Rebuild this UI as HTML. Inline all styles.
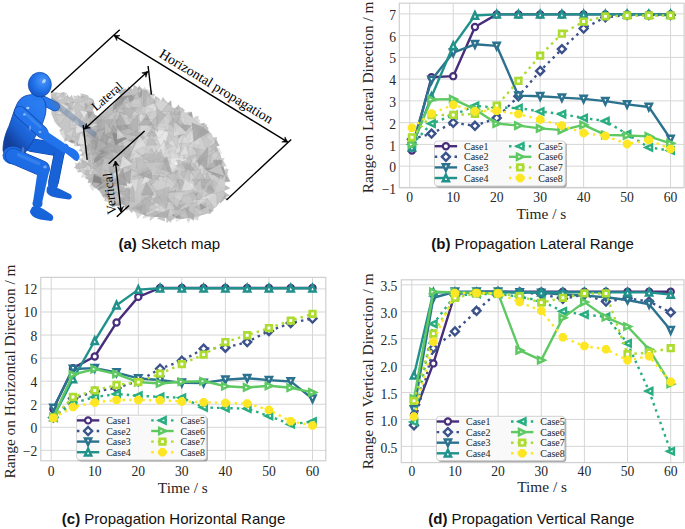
<!DOCTYPE html>
<html><head><meta charset="utf-8"><title>Figure</title>
<style>
html,body{margin:0;padding:0;background:#fff;width:685px;height:529px;overflow:hidden;}
svg{display:block;font-family:"Liberation Serif",serif;}
</style></head><body>
<svg width="685" height="529" viewBox="0 0 685 529">
<defs>
<clipPath id="clipB"><rect x="399.3" y="3.2" width="284.8" height="184.3"/></clipPath>
<clipPath id="clipC"><rect x="40.8" y="277.4" width="285" height="183.4"/></clipPath>
<clipPath id="clipD"><rect x="401.3" y="279.8" width="282.7" height="182.8"/></clipPath>
</defs>
<defs><radialGradient id="cg" gradientUnits="userSpaceOnUse" cx="175" cy="150" r="105"><stop offset="0" stop-color="#dcdcdc"/><stop offset="0.55" stop-color="#c9c9c9"/><stop offset="0.8" stop-color="#bababa"/><stop offset="1" stop-color="#c6c6c6"/></radialGradient><clipPath id="cclip"><path d="M50.7,92.6 L55,92 L61.6,93.7 L66,96.5 L70.7,99.4 L76,98.5 L79.8,99.4 L84,97.5 L87.7,97 L91,98 L93.8,100 L94.8,105 L93,110 L95,115 L99,116.5 L104,112.5 L110,107.5 L115,103 L118.7,97 L122,93 L126.3,90.7 L133,89.2 L140,89.5 L147,90.8 L150.5,94 L155.4,99.4 L163,101 L170.9,106.5 L178,110 L186.8,114 L194,118.5 L199,122 L203.5,127.4 L211.9,134 L215,143.2 L220,153.8 L223,164.4 L225.5,175 L225,185.6 L224,196.2 L216.5,206.5 L207,213.5 L194.7,217.2 L181.5,218.5 L170,218 L162.9,217.5 L147,216 L133.8,211.5 L125.9,205 L118,204 L112,202 L105.5,196.5 L95,187 L91.6,183 L88.5,177.6 L81,172 L79,166.3 L82.8,156.8 L81,148 L76.4,141.3 L70,139.5 L65,137 L63.9,131 L58,126 L54.8,122 L51.4,114Z"/></clipPath></defs>
<polygon points="67.01,93.2 63.14,98.78 60.33,92.53" fill="#c5c5c5" fill-opacity="0.85" stroke="#7a7a7a" stroke-opacity="0.3" stroke-width="0.35"/>
<polygon points="64.31,91.82 63.71,97.15 60.21,94.71" fill="#bbbbbb" fill-opacity="0.85" stroke="#7a7a7a" stroke-opacity="0.3" stroke-width="0.35"/>
<polygon points="64.24,97.13 67.95,94.55 67.67,99.3" fill="#cecece" fill-opacity="0.85" stroke="#7a7a7a" stroke-opacity="0.3" stroke-width="0.35"/>
<polygon points="66.94,95.56 72.5,99.71 66.4,101.31" fill="#b0b0b0" fill-opacity="0.85" stroke="#7a7a7a" stroke-opacity="0.3" stroke-width="0.35"/>
<polygon points="72.67,101.87 70,96.46 75.24,99.38" fill="#c3c3c3" fill-opacity="0.85" stroke="#7a7a7a" stroke-opacity="0.3" stroke-width="0.35"/>
<polygon points="67.13,100.49 71.78,94.89 74.06,102.19" fill="#c2c2c2" fill-opacity="0.85" stroke="#7a7a7a" stroke-opacity="0.3" stroke-width="0.35"/>
<polygon points="79.66,96.89 76.02,101.91 73.36,95.68" fill="#cdcdcd" fill-opacity="0.85" stroke="#7a7a7a" stroke-opacity="0.3" stroke-width="0.35"/>
<polygon points="76.52,95.93 80.66,99.91 75.78,101.08" fill="#d7d7d7" fill-opacity="0.85" stroke="#7a7a7a" stroke-opacity="0.3" stroke-width="0.35"/>
<polygon points="81.16,102.04 80.67,93.45 88.38,95.38" fill="#cfcfcf" fill-opacity="0.85" stroke="#7a7a7a" stroke-opacity="0.3" stroke-width="0.35"/>
<polygon points="79.44,103.29 77.47,94.99 85.2,99.14" fill="#c2c2c2" fill-opacity="0.85" stroke="#7a7a7a" stroke-opacity="0.3" stroke-width="0.35"/>
<polygon points="88.88,96.6 83.45,100.95 82.21,94.05" fill="#c8c8c8" fill-opacity="0.85" stroke="#7a7a7a" stroke-opacity="0.3" stroke-width="0.35"/>
<polygon points="88.25,97.34 82.79,101.64 81.14,95.89" fill="#b6b6b6" fill-opacity="0.85" stroke="#7a7a7a" stroke-opacity="0.3" stroke-width="0.35"/>
<polygon points="121.68,98.13 118.06,90.19 126.08,88.82" fill="#c1c1c1" fill-opacity="0.85" stroke="#7a7a7a" stroke-opacity="0.3" stroke-width="0.35"/>
<polygon points="125.93,88.55 123.29,96 118.74,92.76" fill="#bcbcbc" fill-opacity="0.85" stroke="#7a7a7a" stroke-opacity="0.3" stroke-width="0.35"/>
<polygon points="130.98,92.93 126.22,90.19 131.75,88.24" fill="#b3b3b3" fill-opacity="0.85" stroke="#7a7a7a" stroke-opacity="0.3" stroke-width="0.35"/>
<polygon points="133.52,91.57 127.58,91.3 128.09,86.54" fill="#ababab" fill-opacity="0.85" stroke="#7a7a7a" stroke-opacity="0.3" stroke-width="0.35"/>
<polygon points="132.81,94.15 133.74,84.95 141.08,89.82" fill="#b9b9b9" fill-opacity="0.85" stroke="#7a7a7a" stroke-opacity="0.3" stroke-width="0.35"/>
<polygon points="139.07,85.62 143.28,90.8 136.3,92.45" fill="#a4a4a4" fill-opacity="0.85" stroke="#7a7a7a" stroke-opacity="0.3" stroke-width="0.35"/>
<polygon points="141.12,89.59 147.99,89.79 143.21,94.21" fill="#acacac" fill-opacity="0.85" stroke="#7a7a7a" stroke-opacity="0.3" stroke-width="0.35"/>
<polygon points="144.97,87.27 147.2,94.01 139.97,91.01" fill="#d5d5d5" fill-opacity="0.85" stroke="#7a7a7a" stroke-opacity="0.3" stroke-width="0.35"/>
<polygon points="147.35,90.91 152.64,91.05 148.04,97.27" fill="#d5d5d5" fill-opacity="0.85" stroke="#7a7a7a" stroke-opacity="0.3" stroke-width="0.35"/>
<polygon points="152.11,90.77 150.9,96.92 145.95,90.28" fill="#e5e5e5" fill-opacity="0.85" stroke="#7a7a7a" stroke-opacity="0.3" stroke-width="0.35"/>
<polygon points="151.13,97.85 158.23,97.75 153.73,102.66" fill="#d0d0d0" fill-opacity="0.85" stroke="#7a7a7a" stroke-opacity="0.3" stroke-width="0.35"/>
<polygon points="151.62,99.02 148.4,92.33 154.92,94.52" fill="#bebebe" fill-opacity="0.85" stroke="#7a7a7a" stroke-opacity="0.3" stroke-width="0.35"/>
<polygon points="166.98,103.84 160.44,102.62 162.87,96.93" fill="#c3c3c3" fill-opacity="0.85" stroke="#7a7a7a" stroke-opacity="0.3" stroke-width="0.35"/>
<polygon points="160.21,99.39 154.86,103.55 155.35,95.83" fill="#bfbfbf" fill-opacity="0.85" stroke="#7a7a7a" stroke-opacity="0.3" stroke-width="0.35"/>
<polygon points="171.06,100.41 171.69,107.99 163.74,106.91" fill="#a6a6a6" fill-opacity="0.85" stroke="#7a7a7a" stroke-opacity="0.3" stroke-width="0.35"/>
<polygon points="161.88,104.99 163.14,98.41 168.1,103.11" fill="#c7c7c7" fill-opacity="0.85" stroke="#7a7a7a" stroke-opacity="0.3" stroke-width="0.35"/>
<polygon points="180.46,107.55 177.13,112.83 175.46,108.06" fill="#a1a1a1" fill-opacity="0.85" stroke="#7a7a7a" stroke-opacity="0.3" stroke-width="0.35"/>
<polygon points="171.23,111.69 179,104.72 179.76,113.78" fill="#b3b3b3" fill-opacity="0.85" stroke="#7a7a7a" stroke-opacity="0.3" stroke-width="0.35"/>
<polygon points="184.95,110.36 176.77,115.93 178.23,105.94" fill="#bebebe" fill-opacity="0.85" stroke="#7a7a7a" stroke-opacity="0.3" stroke-width="0.35"/>
<polygon points="182.34,107.54 184.65,113.01 177.57,114.49" fill="#c9c9c9" fill-opacity="0.85" stroke="#7a7a7a" stroke-opacity="0.3" stroke-width="0.35"/>
<polygon points="193.31,119.39 184.24,114.98 191.64,111.75" fill="#979797" fill-opacity="0.85" stroke="#7a7a7a" stroke-opacity="0.3" stroke-width="0.35"/>
<polygon points="183.87,113.17 189.97,111.69 187.71,117.77" fill="#c5c5c5" fill-opacity="0.85" stroke="#7a7a7a" stroke-opacity="0.3" stroke-width="0.35"/>
<polygon points="198.7,115.9 196.22,123.53 191.62,119.07" fill="#c9c9c9" fill-opacity="0.85" stroke="#7a7a7a" stroke-opacity="0.3" stroke-width="0.35"/>
<polygon points="200.36,121.1 193.9,122.93 195.18,116.03" fill="#d8d8d8" fill-opacity="0.85" stroke="#7a7a7a" stroke-opacity="0.3" stroke-width="0.35"/>
<polygon points="198.99,123.92 204.94,123.09 203.05,128.38" fill="#a4a4a4" fill-opacity="0.85" stroke="#7a7a7a" stroke-opacity="0.3" stroke-width="0.35"/>
<polygon points="202.32,130.51 201.87,124.33 207.21,124.91" fill="#d0d0d0" fill-opacity="0.85" stroke="#7a7a7a" stroke-opacity="0.3" stroke-width="0.35"/>
<polygon points="203.3,125.57 208.61,128.01 202.48,132.03" fill="#b5b5b5" fill-opacity="0.85" stroke="#7a7a7a" stroke-opacity="0.3" stroke-width="0.35"/>
<polygon points="201.36,130.65 205.8,124.43 209.12,131.67" fill="#c2c2c2" fill-opacity="0.85" stroke="#7a7a7a" stroke-opacity="0.3" stroke-width="0.35"/>
<polygon points="216.75,137.26 216.41,144.09 209.83,138.06" fill="#bcbcbc" fill-opacity="0.85" stroke="#7a7a7a" stroke-opacity="0.3" stroke-width="0.35"/>
<polygon points="218.15,141.43 213.7,145.21 212.4,140.17" fill="#d1d1d1" fill-opacity="0.85" stroke="#7a7a7a" stroke-opacity="0.3" stroke-width="0.35"/>
<polygon points="218.96,148.03 221.61,153.56 215.63,152.54" fill="#ebebeb" fill-opacity="0.85" stroke="#7a7a7a" stroke-opacity="0.3" stroke-width="0.35"/>
<polygon points="215.8,140.24 219.62,145.4 212.57,147.61" fill="#a9a9a9" fill-opacity="0.85" stroke="#7a7a7a" stroke-opacity="0.3" stroke-width="0.35"/>
<polygon points="217.42,158.88 224.48,158.2 220.39,163.8" fill="#c8c8c8" fill-opacity="0.85" stroke="#7a7a7a" stroke-opacity="0.3" stroke-width="0.35"/>
<polygon points="222.66,159.74 226.22,166.09 218.95,166.93" fill="#c6c6c6" fill-opacity="0.85" stroke="#7a7a7a" stroke-opacity="0.3" stroke-width="0.35"/>
<polygon points="227.06,176.79 219.64,172.61 226.49,167.69" fill="#e8e8e8" fill-opacity="0.85" stroke="#7a7a7a" stroke-opacity="0.3" stroke-width="0.35"/>
<polygon points="228.42,169.02 226.28,177.37 220.96,170.98" fill="#c6c6c6" fill-opacity="0.85" stroke="#7a7a7a" stroke-opacity="0.3" stroke-width="0.35"/>
<polygon points="226.35,172.58 230.21,181.54 220.26,179.81" fill="#c6c6c6" fill-opacity="0.85" stroke="#7a7a7a" stroke-opacity="0.3" stroke-width="0.35"/>
<polygon points="229.86,181.25 222.68,182.47 225.44,174.5" fill="#a4a4a4" fill-opacity="0.85" stroke="#7a7a7a" stroke-opacity="0.3" stroke-width="0.35"/>
<polygon points="221.49,183.12 230.12,188.18 222.53,191.31" fill="#b1b1b1" fill-opacity="0.85" stroke="#7a7a7a" stroke-opacity="0.3" stroke-width="0.35"/>
<polygon points="229.54,195.46 221.76,198.21 220.56,189.25" fill="#adadad" fill-opacity="0.85" stroke="#7a7a7a" stroke-opacity="0.3" stroke-width="0.35"/>
<polygon points="220.13,203.31 218.39,197.52 224.08,199.67" fill="#adadad" fill-opacity="0.85" stroke="#7a7a7a" stroke-opacity="0.3" stroke-width="0.35"/>
<polygon points="222.08,192.85 227.71,199.37 220.08,199.02" fill="#aaaaaa" fill-opacity="0.85" stroke="#7a7a7a" stroke-opacity="0.3" stroke-width="0.35"/>
<polygon points="213.58,209.78 209.89,213.92 207.98,208.46" fill="#b5b5b5" fill-opacity="0.85" stroke="#7a7a7a" stroke-opacity="0.3" stroke-width="0.35"/>
<polygon points="213.41,210.49 208.46,214.08 207.82,207.8" fill="#bdbdbd" fill-opacity="0.85" stroke="#7a7a7a" stroke-opacity="0.3" stroke-width="0.35"/>
<polygon points="200.79,215.02 195.6,219.15 196,213.22" fill="#c3c3c3" fill-opacity="0.85" stroke="#7a7a7a" stroke-opacity="0.3" stroke-width="0.35"/>
<polygon points="190.75,216.71 197.38,212.16 198.28,220.46" fill="#d8d8d8" fill-opacity="0.85" stroke="#7a7a7a" stroke-opacity="0.3" stroke-width="0.35"/>
<polygon points="188.91,217.06 194.33,215 193.62,220.47" fill="#a7a7a7" fill-opacity="0.85" stroke="#7a7a7a" stroke-opacity="0.3" stroke-width="0.35"/>
<polygon points="193.15,215.22 188.15,222.6 184.62,213.77" fill="#d2d2d2" fill-opacity="0.85" stroke="#7a7a7a" stroke-opacity="0.3" stroke-width="0.35"/>
<polygon points="176.09,214.85 180.96,219.47 175.97,221.65" fill="#eaeaea" fill-opacity="0.85" stroke="#7a7a7a" stroke-opacity="0.3" stroke-width="0.35"/>
<polygon points="174.43,219.04 168.78,220.64 171.06,215.32" fill="#bdbdbd" fill-opacity="0.85" stroke="#7a7a7a" stroke-opacity="0.3" stroke-width="0.35"/>
<polygon points="165.11,216.95 172.83,214.11 170.91,222.65" fill="#c6c6c6" fill-opacity="0.85" stroke="#7a7a7a" stroke-opacity="0.3" stroke-width="0.35"/>
<polygon points="166.4,215.32 173.9,215.69 166.74,222.91" fill="#bcbcbc" fill-opacity="0.85" stroke="#7a7a7a" stroke-opacity="0.3" stroke-width="0.35"/>
<polygon points="149.82,220.81 151.22,212.1 157.91,214.52" fill="#c8c8c8" fill-opacity="0.85" stroke="#7a7a7a" stroke-opacity="0.3" stroke-width="0.35"/>
<polygon points="157.18,218.49 164.24,212.98 164.89,221.27" fill="#bdbdbd" fill-opacity="0.85" stroke="#7a7a7a" stroke-opacity="0.3" stroke-width="0.35"/>
<polygon points="145.91,212.08 149.67,216.57 142.62,218.3" fill="#d7d7d7" fill-opacity="0.85" stroke="#7a7a7a" stroke-opacity="0.3" stroke-width="0.35"/>
<polygon points="144.78,211.24 137.48,218.73 134.9,210.5" fill="#d6d6d6" fill-opacity="0.85" stroke="#7a7a7a" stroke-opacity="0.3" stroke-width="0.35"/>
<polygon points="127.05,210.62 121.6,203.25 130.66,201.75" fill="#a5a5a5" fill-opacity="0.85" stroke="#7a7a7a" stroke-opacity="0.3" stroke-width="0.35"/>
<polygon points="124.49,205.11 134.31,204.24 132.02,213.04" fill="#b6b6b6" fill-opacity="0.85" stroke="#7a7a7a" stroke-opacity="0.3" stroke-width="0.35"/>
<polygon points="126,204.6 121.76,208.61 119.46,202.33" fill="#dcdcdc" fill-opacity="0.85" stroke="#7a7a7a" stroke-opacity="0.3" stroke-width="0.35"/>
<polygon points="116.07,201.33 122,202.82 118.49,206.87" fill="#d1d1d1" fill-opacity="0.85" stroke="#7a7a7a" stroke-opacity="0.3" stroke-width="0.35"/>
<polygon points="111.43,204.36 114.86,198.1 119.37,205.56" fill="#b8b8b8" fill-opacity="0.85" stroke="#7a7a7a" stroke-opacity="0.3" stroke-width="0.35"/>
<polygon points="114.33,198.31 120.42,204.73 111.6,207.26" fill="#9c9c9c" fill-opacity="0.85" stroke="#7a7a7a" stroke-opacity="0.3" stroke-width="0.35"/>
<polygon points="109.85,194.51 112.62,203.25 103.91,200.51" fill="#c9c9c9" fill-opacity="0.85" stroke="#7a7a7a" stroke-opacity="0.3" stroke-width="0.35"/>
<polygon points="112.43,198.41 109.15,203.02 107.47,197.56" fill="#cdcdcd" fill-opacity="0.85" stroke="#7a7a7a" stroke-opacity="0.3" stroke-width="0.35"/>
<polygon points="102.13,195.26 107.64,193.02 105.76,199.97" fill="#bebebe" fill-opacity="0.85" stroke="#7a7a7a" stroke-opacity="0.3" stroke-width="0.35"/>
<polygon points="103.38,197.56 100.23,191.99 106.6,193.2" fill="#ababab" fill-opacity="0.85" stroke="#7a7a7a" stroke-opacity="0.3" stroke-width="0.35"/>
<polygon points="97.83,183.69 92.5,190.67 89.59,185.27" fill="#e1e1e1" fill-opacity="0.85" stroke="#7a7a7a" stroke-opacity="0.3" stroke-width="0.35"/>
<polygon points="89.88,183.66 96.29,181.96 96.47,188.9" fill="#b8b8b8" fill-opacity="0.85" stroke="#7a7a7a" stroke-opacity="0.3" stroke-width="0.35"/>
<polygon points="89.79,177.06 94.94,181.66 87.83,182.99" fill="#a9a9a9" fill-opacity="0.85" stroke="#7a7a7a" stroke-opacity="0.3" stroke-width="0.35"/>
<polygon points="85.36,176.31 89.58,175.92 88.62,180.8" fill="#c0c0c0" fill-opacity="0.85" stroke="#7a7a7a" stroke-opacity="0.3" stroke-width="0.35"/>
<polygon points="86.27,174.04 90.93,179.13 85.38,178.52" fill="#b8b8b8" fill-opacity="0.85" stroke="#7a7a7a" stroke-opacity="0.3" stroke-width="0.35"/>
<polygon points="88.6,176.85 81.04,177.37 84.29,170.71" fill="#e0e0e0" fill-opacity="0.85" stroke="#7a7a7a" stroke-opacity="0.3" stroke-width="0.35"/>
<polygon points="83.49,171.65 77.36,172.29 80.71,167.16" fill="#b3b3b3" fill-opacity="0.85" stroke="#7a7a7a" stroke-opacity="0.3" stroke-width="0.35"/>
<polygon points="75.23,163 83.62,165.18 76.9,170.69" fill="#cfcfcf" fill-opacity="0.85" stroke="#7a7a7a" stroke-opacity="0.3" stroke-width="0.35"/>
<polygon points="79.42,161.62 82.95,169.54 74.14,168.03" fill="#b9b9b9" fill-opacity="0.85" stroke="#7a7a7a" stroke-opacity="0.3" stroke-width="0.35"/>
<polygon points="81.94,162.79 78.88,159.16 84.02,157.37" fill="#d2d2d2" fill-opacity="0.85" stroke="#7a7a7a" stroke-opacity="0.3" stroke-width="0.35"/>
<polygon points="83.62,151.86 78.58,150.63 82.07,147.32" fill="#bcbcbc" fill-opacity="0.85" stroke="#7a7a7a" stroke-opacity="0.3" stroke-width="0.35"/>
<polygon points="84.59,156.03 79.51,155.73 83.15,152.11" fill="#bebebe" fill-opacity="0.85" stroke="#7a7a7a" stroke-opacity="0.3" stroke-width="0.35"/>
<polygon points="74.47,146.09 74.97,138.48 81.49,145.85" fill="#c9c9c9" fill-opacity="0.85" stroke="#7a7a7a" stroke-opacity="0.3" stroke-width="0.35"/>
<polygon points="77.25,145.98 76.28,141.87 80.75,144.47" fill="#a9a9a9" fill-opacity="0.85" stroke="#7a7a7a" stroke-opacity="0.3" stroke-width="0.35"/>
<polygon points="72.55,143.71 67.09,140.5 72.95,135.85" fill="#b6b6b6" fill-opacity="0.85" stroke="#7a7a7a" stroke-opacity="0.3" stroke-width="0.35"/>
<polygon points="74.34,137.68 74.8,143.5 69.03,141.19" fill="#8f8f8f" fill-opacity="0.85" stroke="#7a7a7a" stroke-opacity="0.3" stroke-width="0.35"/>
<polygon points="63.96,141.99 64.79,135.26 71.1,136.73" fill="#d5d5d5" fill-opacity="0.85" stroke="#7a7a7a" stroke-opacity="0.3" stroke-width="0.35"/>
<polygon points="65.61,141.55 64.67,135.6 70.09,137.42" fill="#b6b6b6" fill-opacity="0.85" stroke="#7a7a7a" stroke-opacity="0.3" stroke-width="0.35"/>
<polygon points="64.68,139.91 60.05,132.98 67.55,131.39" fill="#d9d9d9" fill-opacity="0.85" stroke="#7a7a7a" stroke-opacity="0.3" stroke-width="0.35"/>
<polygon points="61.98,134.89 61.05,127.97 68.1,129.2" fill="#f0f0f0" fill-opacity="0.85" stroke="#7a7a7a" stroke-opacity="0.3" stroke-width="0.35"/>
<polygon points="65.26,133 59.36,130.49 63.4,126.66" fill="#b6b6b6" fill-opacity="0.85" stroke="#7a7a7a" stroke-opacity="0.3" stroke-width="0.35"/>
<polygon points="64.89,134.3 59.55,131.68 65.62,127.22" fill="#d9d9d9" fill-opacity="0.85" stroke="#7a7a7a" stroke-opacity="0.3" stroke-width="0.35"/>
<path d="M50.7,92.6 L55,92 L61.6,93.7 L66,96.5 L70.7,99.4 L76,98.5 L79.8,99.4 L84,97.5 L87.7,97 L91,98 L93.8,100 L94.8,105 L93,110 L95,115 L99,116.5 L104,112.5 L110,107.5 L115,103 L118.7,97 L122,93 L126.3,90.7 L133,89.2 L140,89.5 L147,90.8 L150.5,94 L155.4,99.4 L163,101 L170.9,106.5 L178,110 L186.8,114 L194,118.5 L199,122 L203.5,127.4 L211.9,134 L215,143.2 L220,153.8 L223,164.4 L225.5,175 L225,185.6 L224,196.2 L216.5,206.5 L207,213.5 L194.7,217.2 L181.5,218.5 L170,218 L162.9,217.5 L147,216 L133.8,211.5 L125.9,205 L118,204 L112,202 L105.5,196.5 L95,187 L91.6,183 L88.5,177.6 L81,172 L79,166.3 L82.8,156.8 L81,148 L76.4,141.3 L70,139.5 L65,137 L63.9,131 L58,126 L54.8,122 L51.4,114Z" fill="url(#cg)"/>
<g clip-path="url(#cclip)">
<polygon points="193.4,189.6 179.91,194.23 178.03,176.75" fill="#a9a9a9" fill-opacity="0.6" stroke="#7a7a7a" stroke-opacity="0.3" stroke-width="0.35"/>
<polygon points="206.21,173.99 215.41,184.62 200.01,188.95" fill="#bbbbbb" fill-opacity="0.59" stroke="#7a7a7a" stroke-opacity="0.3" stroke-width="0.35"/>
<polygon points="139.17,124.74 145.4,110.6 150.71,125.11" fill="#9d9d9d" fill-opacity="0.53" stroke="#7a7a7a" stroke-opacity="0.3" stroke-width="0.35"/>
<polygon points="186.61,169.46 167.96,167.95 177.42,153.64" fill="#e3e3e3" fill-opacity="0.55" stroke="#7a7a7a" stroke-opacity="0.3" stroke-width="0.35"/>
<polygon points="202.99,199.08 199.48,187.84 215.46,194.24" fill="#f5f5f5" fill-opacity="0.62" stroke="#7a7a7a" stroke-opacity="0.3" stroke-width="0.35"/>
<polygon points="91.34,121 88.52,133.58 78.82,126.83" fill="#b8b8b8" fill-opacity="0.8" stroke="#7a7a7a" stroke-opacity="0.3" stroke-width="0.35"/>
<polygon points="87.13,168.06 86.03,174.57 82.22,167.82" fill="#cfcfcf" fill-opacity="0.69" stroke="#7a7a7a" stroke-opacity="0.3" stroke-width="0.35"/>
<polygon points="217.18,153.51 209.42,146.49 218.68,141" fill="#b5b5b5" fill-opacity="0.73" stroke="#7a7a7a" stroke-opacity="0.3" stroke-width="0.35"/>
<polygon points="106.34,171.93 128.11,174.11 118.02,186.73" fill="#f1f1f1" fill-opacity="0.6" stroke="#7a7a7a" stroke-opacity="0.3" stroke-width="0.35"/>
<polygon points="138.18,155.71 147.72,157.28 143.85,164.94" fill="#ebebeb" fill-opacity="0.54" stroke="#7a7a7a" stroke-opacity="0.3" stroke-width="0.35"/>
<polygon points="104.54,159.26 100.8,168.06 91,157.59" fill="#a5a5a5" fill-opacity="0.64" stroke="#7a7a7a" stroke-opacity="0.3" stroke-width="0.35"/>
<polygon points="165.64,126.05 168.64,145.32 151.5,139.35" fill="#cdcdcd" fill-opacity="0.51" stroke="#7a7a7a" stroke-opacity="0.3" stroke-width="0.35"/>
<polygon points="161.19,110.51 164.82,122.98 149.89,125.12" fill="#bfbfbf" fill-opacity="0.66" stroke="#7a7a7a" stroke-opacity="0.3" stroke-width="0.35"/>
<polygon points="181.29,168.87 164.95,162.39 180.63,155.06" fill="#d0d0d0" fill-opacity="0.73" stroke="#7a7a7a" stroke-opacity="0.3" stroke-width="0.35"/>
<polygon points="154.09,168.06 140.65,159.54 159.75,154.46" fill="#c8c8c8" fill-opacity="0.48" stroke="#7a7a7a" stroke-opacity="0.3" stroke-width="0.35"/>
<polygon points="180.79,199.48 163.5,207.66 165.48,187.91" fill="#e0e0e0" fill-opacity="0.72" stroke="#7a7a7a" stroke-opacity="0.3" stroke-width="0.35"/>
<polygon points="128.7,190.14 125.18,183.62 133.96,182.68" fill="#f5f5f5" fill-opacity="0.72" stroke="#7a7a7a" stroke-opacity="0.3" stroke-width="0.35"/>
<polygon points="171.74,118.43 185.59,116.97 182.4,127.87" fill="#d7d7d7" fill-opacity="0.66" stroke="#7a7a7a" stroke-opacity="0.3" stroke-width="0.35"/>
<polygon points="104.43,170.16 121.81,171.66 111.64,191.92" fill="#bbbbbb" fill-opacity="0.51" stroke="#7a7a7a" stroke-opacity="0.3" stroke-width="0.35"/>
<polygon points="148.37,116.54 137.8,108.13 154.08,105.71" fill="#d4d4d4" fill-opacity="0.52" stroke="#7a7a7a" stroke-opacity="0.3" stroke-width="0.35"/>
<polygon points="177.94,134.81 166.74,144.27 170.3,129.68" fill="#c6c6c6" fill-opacity="0.78" stroke="#7a7a7a" stroke-opacity="0.3" stroke-width="0.35"/>
<polygon points="118.04,180.18 114.94,195.82 107.47,181.32" fill="#c0c0c0" fill-opacity="0.72" stroke="#7a7a7a" stroke-opacity="0.3" stroke-width="0.35"/>
<polygon points="144.82,101.98 136.33,93.18 147.08,90.7" fill="#adadad" fill-opacity="0.7" stroke="#7a7a7a" stroke-opacity="0.3" stroke-width="0.35"/>
<polygon points="103.19,188.09 86.89,182.16 99.63,171.45" fill="#acacac" fill-opacity="0.53" stroke="#7a7a7a" stroke-opacity="0.3" stroke-width="0.35"/>
<polygon points="109.36,132.1 95.36,139.48 103.06,127.56" fill="#9b9b9b" fill-opacity="0.53" stroke="#7a7a7a" stroke-opacity="0.3" stroke-width="0.35"/>
<polygon points="176.94,164.26 178.47,183.81 162.6,174.43" fill="#9e9e9e" fill-opacity="0.58" stroke="#7a7a7a" stroke-opacity="0.3" stroke-width="0.35"/>
<polygon points="112.74,159.35 100.32,156.61 109.28,147.81" fill="#ababab" fill-opacity="0.5" stroke="#7a7a7a" stroke-opacity="0.3" stroke-width="0.35"/>
<polygon points="146.4,173.8 159.39,180.4 148.48,185.37" fill="#dadada" fill-opacity="0.62" stroke="#7a7a7a" stroke-opacity="0.3" stroke-width="0.35"/>
<polygon points="156.27,156.28 148.26,143.24 159.5,143.98" fill="#d7d7d7" fill-opacity="0.67" stroke="#7a7a7a" stroke-opacity="0.3" stroke-width="0.35"/>
<polygon points="145.37,203.1 160.07,208.07 144.08,221.65" fill="#d1d1d1" fill-opacity="0.58" stroke="#7a7a7a" stroke-opacity="0.3" stroke-width="0.35"/>
<polygon points="112.61,141.65 94.75,135.06 103.66,123.77" fill="#a8a8a8" fill-opacity="0.62" stroke="#7a7a7a" stroke-opacity="0.3" stroke-width="0.35"/>
<polygon points="155.02,152.01 170.27,153.57 162.27,168.42" fill="#dbdbdb" fill-opacity="0.7" stroke="#7a7a7a" stroke-opacity="0.3" stroke-width="0.35"/>
<polygon points="173.84,165.55 179,188.05 162.22,179.88" fill="#cacaca" fill-opacity="0.53" stroke="#7a7a7a" stroke-opacity="0.3" stroke-width="0.35"/>
<polygon points="91.42,132.07 94.82,128.2 94.99,134.23" fill="#b5b5b5" fill-opacity="0.61" stroke="#7a7a7a" stroke-opacity="0.3" stroke-width="0.35"/>
<polygon points="190.21,149.04 189.37,157.23 179.99,148.23" fill="#cbcbcb" fill-opacity="0.7" stroke="#7a7a7a" stroke-opacity="0.3" stroke-width="0.35"/>
<polygon points="116.43,125.69 113.92,142.41 95.53,130.11" fill="#a5a5a5" fill-opacity="0.73" stroke="#7a7a7a" stroke-opacity="0.3" stroke-width="0.35"/>
<polygon points="74.29,141.62 66.28,134.58 76.97,137.17" fill="#c8c8c8" fill-opacity="0.67" stroke="#7a7a7a" stroke-opacity="0.3" stroke-width="0.35"/>
<polygon points="178.32,224.5 175.24,212.45 186.19,216.02" fill="#a2a2a2" fill-opacity="0.74" stroke="#7a7a7a" stroke-opacity="0.3" stroke-width="0.35"/>
<polygon points="105.21,132.3 107.09,147.03 92.73,140.82" fill="#b9b9b9" fill-opacity="0.78" stroke="#7a7a7a" stroke-opacity="0.3" stroke-width="0.35"/>
<polygon points="94.71,156.29 91.33,149.92 97.71,151.43" fill="#dbdbdb" fill-opacity="0.62" stroke="#7a7a7a" stroke-opacity="0.3" stroke-width="0.35"/>
<polygon points="118.53,126.74 112.18,127.21 113.55,114.76" fill="#c5c5c5" fill-opacity="0.62" stroke="#7a7a7a" stroke-opacity="0.3" stroke-width="0.35"/>
<polygon points="131.48,197.18 117.06,197.39 125.92,183.84" fill="#e4e4e4" fill-opacity="0.8" stroke="#7a7a7a" stroke-opacity="0.3" stroke-width="0.35"/>
<polygon points="134.84,201.88 120.88,199.45 133.19,186.33" fill="#aeaeae" fill-opacity="0.45" stroke="#7a7a7a" stroke-opacity="0.3" stroke-width="0.35"/>
<polygon points="180.66,195.63 194.4,178.53 205.37,191.83" fill="#dbdbdb" fill-opacity="0.59" stroke="#7a7a7a" stroke-opacity="0.3" stroke-width="0.35"/>
<polygon points="183.28,123.71 168.42,130.48 171.05,108.47" fill="#b2b2b2" fill-opacity="0.57" stroke="#7a7a7a" stroke-opacity="0.3" stroke-width="0.35"/>
<polygon points="109.25,177.12 114.69,185.96 105.26,190.34" fill="#cdcdcd" fill-opacity="0.6" stroke="#7a7a7a" stroke-opacity="0.3" stroke-width="0.35"/>
<polygon points="130.47,124.49 120.74,141.27 110.17,126.68" fill="#878787" fill-opacity="0.53" stroke="#7a7a7a" stroke-opacity="0.3" stroke-width="0.35"/>
<polygon points="119.24,188.88 117.03,177.8 129.89,176" fill="#d4d4d4" fill-opacity="0.5" stroke="#7a7a7a" stroke-opacity="0.3" stroke-width="0.35"/>
<polygon points="163.1,150.01 153.23,131.79 169.05,131.11" fill="#efefef" fill-opacity="0.69" stroke="#7a7a7a" stroke-opacity="0.3" stroke-width="0.35"/>
<polygon points="125.05,182.75 128.83,166.79 138.9,173.92" fill="#dcdcdc" fill-opacity="0.61" stroke="#7a7a7a" stroke-opacity="0.3" stroke-width="0.35"/>
<polygon points="163.36,177.9 144.3,164.6 163.58,154.45" fill="#a5a5a5" fill-opacity="0.49" stroke="#7a7a7a" stroke-opacity="0.3" stroke-width="0.35"/>
<polygon points="168.48,197.07 176.46,215.45 154.9,210.57" fill="#d6d6d6" fill-opacity="0.73" stroke="#7a7a7a" stroke-opacity="0.3" stroke-width="0.35"/>
<polygon points="136.46,168.75 118.95,161.3 139.33,152.53" fill="#c4c4c4" fill-opacity="0.75" stroke="#7a7a7a" stroke-opacity="0.3" stroke-width="0.35"/>
<polygon points="184.87,149.79 192.98,163.56 172.67,165.39" fill="#f5f5f5" fill-opacity="0.74" stroke="#7a7a7a" stroke-opacity="0.3" stroke-width="0.35"/>
<polygon points="75.16,108.38 75.8,116.69 66.24,113.68" fill="#ececec" fill-opacity="0.52" stroke="#7a7a7a" stroke-opacity="0.3" stroke-width="0.35"/>
<polygon points="165.14,150.94 163.38,140.02 172.31,146.03" fill="#b8b8b8" fill-opacity="0.49" stroke="#7a7a7a" stroke-opacity="0.3" stroke-width="0.35"/>
<polygon points="174.76,156.1 167.03,151.97 176.78,143.79" fill="#d3d3d3" fill-opacity="0.56" stroke="#7a7a7a" stroke-opacity="0.3" stroke-width="0.35"/>
<polygon points="112.99,109.51 122.13,98.37 126.72,115.61" fill="#a1a1a1" fill-opacity="0.7" stroke="#7a7a7a" stroke-opacity="0.3" stroke-width="0.35"/>
<polygon points="94.58,159.62 92.22,168.33 88.62,161.53" fill="#d0d0d0" fill-opacity="0.61" stroke="#7a7a7a" stroke-opacity="0.3" stroke-width="0.35"/>
<polygon points="94.13,157.66 90.4,140.56 111.52,137.85" fill="#959595" fill-opacity="0.54" stroke="#7a7a7a" stroke-opacity="0.3" stroke-width="0.35"/>
<polygon points="131.57,125.01 133.98,142.5 114.73,136.37" fill="#a4a4a4" fill-opacity="0.68" stroke="#7a7a7a" stroke-opacity="0.3" stroke-width="0.35"/>
<polygon points="153.15,153.38 165.45,140.37 164.12,159.94" fill="#ebebeb" fill-opacity="0.59" stroke="#7a7a7a" stroke-opacity="0.3" stroke-width="0.35"/>
<polygon points="204.47,168.95 191.15,183.38 186.01,164.36" fill="#cccccc" fill-opacity="0.5" stroke="#7a7a7a" stroke-opacity="0.3" stroke-width="0.35"/>
<polygon points="122.21,191.55 114.33,183.79 125.11,180.2" fill="#cecece" fill-opacity="0.72" stroke="#7a7a7a" stroke-opacity="0.3" stroke-width="0.35"/>
<polygon points="211.94,209.9 210.68,200.07 221.9,204.49" fill="#cbcbcb" fill-opacity="0.5" stroke="#7a7a7a" stroke-opacity="0.3" stroke-width="0.35"/>
<polygon points="98.67,194.89 101.58,182.07 110.09,193.74" fill="#c6c6c6" fill-opacity="0.49" stroke="#7a7a7a" stroke-opacity="0.3" stroke-width="0.35"/>
<polygon points="215.19,147.74 225.73,154.6 221.95,166.88" fill="#bbbbbb" fill-opacity="0.5" stroke="#7a7a7a" stroke-opacity="0.3" stroke-width="0.35"/>
<polygon points="138.47,97.96 141.73,88.4 148.29,91.47" fill="#949494" fill-opacity="0.54" stroke="#7a7a7a" stroke-opacity="0.3" stroke-width="0.35"/>
<polygon points="118.05,149.74 110.45,164.39 99.72,150.46" fill="#b7b7b7" fill-opacity="0.58" stroke="#7a7a7a" stroke-opacity="0.3" stroke-width="0.35"/>
<polygon points="120.48,153.63 128.19,145.39 132.41,155.8" fill="#aeaeae" fill-opacity="0.59" stroke="#7a7a7a" stroke-opacity="0.3" stroke-width="0.35"/>
<polygon points="88.14,105.66 87.85,97.75 93.23,99.5" fill="#d4d4d4" fill-opacity="0.66" stroke="#7a7a7a" stroke-opacity="0.3" stroke-width="0.35"/>
<polygon points="150.31,132.07 162.54,134.12 152.94,142.12" fill="#cbcbcb" fill-opacity="0.48" stroke="#7a7a7a" stroke-opacity="0.3" stroke-width="0.35"/>
<polygon points="89.02,124.75 93.67,117.46 102.48,125.41" fill="#dcdcdc" fill-opacity="0.56" stroke="#7a7a7a" stroke-opacity="0.3" stroke-width="0.35"/>
<polygon points="199.76,195.3 185.43,196.53 196.64,180.91" fill="#afafaf" fill-opacity="0.46" stroke="#7a7a7a" stroke-opacity="0.3" stroke-width="0.35"/>
<polygon points="222.64,188.93 205.9,195.46 213.51,179.5" fill="#c1c1c1" fill-opacity="0.71" stroke="#7a7a7a" stroke-opacity="0.3" stroke-width="0.35"/>
<polygon points="124.98,152.26 111.84,151.52 121.66,139.09" fill="#a3a3a3" fill-opacity="0.64" stroke="#7a7a7a" stroke-opacity="0.3" stroke-width="0.35"/>
<polygon points="75.91,103.24 70.73,108.73 66.74,100.7" fill="#f3f3f3" fill-opacity="0.62" stroke="#7a7a7a" stroke-opacity="0.3" stroke-width="0.35"/>
<polygon points="106.09,174.8 122.77,170.02 119.61,185.14" fill="#dadada" fill-opacity="0.66" stroke="#7a7a7a" stroke-opacity="0.3" stroke-width="0.35"/>
<polygon points="83.4,136.99 83.94,130.41 89.31,135.53" fill="#bbbbbb" fill-opacity="0.79" stroke="#7a7a7a" stroke-opacity="0.3" stroke-width="0.35"/>
<polygon points="105.77,186.7 102.91,177.5 114.79,178.5" fill="#a8a8a8" fill-opacity="0.7" stroke="#7a7a7a" stroke-opacity="0.3" stroke-width="0.35"/>
<polygon points="135.08,171.36 123.61,176.38 123.42,162.58" fill="#afafaf" fill-opacity="0.46" stroke="#7a7a7a" stroke-opacity="0.3" stroke-width="0.35"/>
<polygon points="170.78,174.16 169.98,152.13 182.7,158.41" fill="#f5f5f5" fill-opacity="0.53" stroke="#7a7a7a" stroke-opacity="0.3" stroke-width="0.35"/>
<polygon points="88.52,163.27 78.73,157.62 87.6,153.78" fill="#f4f4f4" fill-opacity="0.55" stroke="#7a7a7a" stroke-opacity="0.3" stroke-width="0.35"/>
<polygon points="204.19,189.99 194.24,181.41 204.82,179.05" fill="#b7b7b7" fill-opacity="0.62" stroke="#7a7a7a" stroke-opacity="0.3" stroke-width="0.35"/>
<polygon points="92.83,123.51 105.78,120.64 101.08,133.36" fill="#aeaeae" fill-opacity="0.68" stroke="#7a7a7a" stroke-opacity="0.3" stroke-width="0.35"/>
<polygon points="216.3,194.27 205.61,192.01 209.81,182.69" fill="#a0a0a0" fill-opacity="0.71" stroke="#7a7a7a" stroke-opacity="0.3" stroke-width="0.35"/>
<polygon points="211.58,165.64 207.09,146.55 222.4,156.33" fill="#cacaca" fill-opacity="0.65" stroke="#7a7a7a" stroke-opacity="0.3" stroke-width="0.35"/>
<polygon points="158.73,210.34 157.87,223.31 140.47,218.08" fill="#b1b1b1" fill-opacity="0.57" stroke="#7a7a7a" stroke-opacity="0.3" stroke-width="0.35"/>
<polygon points="131.36,118.62 137.82,104.25 143.61,123.58" fill="#cbcbcb" fill-opacity="0.57" stroke="#7a7a7a" stroke-opacity="0.3" stroke-width="0.35"/>
<polygon points="187.58,212.17 168.36,217.35 164.13,202.42" fill="#cacaca" fill-opacity="0.69" stroke="#7a7a7a" stroke-opacity="0.3" stroke-width="0.35"/>
<polygon points="170.17,176.27 152.81,175.82 163.32,154.97" fill="#d1d1d1" fill-opacity="0.74" stroke="#7a7a7a" stroke-opacity="0.3" stroke-width="0.35"/>
<polygon points="173.35,150.18 181.97,157.92 159.8,156.44" fill="#d4d4d4" fill-opacity="0.59" stroke="#7a7a7a" stroke-opacity="0.3" stroke-width="0.35"/>
<polygon points="108.65,127.73 113.61,137.45 103.62,135.33" fill="#bcbcbc" fill-opacity="0.51" stroke="#7a7a7a" stroke-opacity="0.3" stroke-width="0.35"/>
<polygon points="77.1,117.72 79.64,125.32 72.79,123.2" fill="#f5f5f5" fill-opacity="0.76" stroke="#7a7a7a" stroke-opacity="0.3" stroke-width="0.35"/>
<polygon points="79.71,122.87 81.8,114.85 87.57,117.02" fill="#d2d2d2" fill-opacity="0.6" stroke="#7a7a7a" stroke-opacity="0.3" stroke-width="0.35"/>
<polygon points="181.1,142.2 187.52,122.42 193.69,137.26" fill="#dadada" fill-opacity="0.62" stroke="#7a7a7a" stroke-opacity="0.3" stroke-width="0.35"/>
<polygon points="196.74,186.79 205.05,168.54 213.91,186.17" fill="#bcbcbc" fill-opacity="0.56" stroke="#7a7a7a" stroke-opacity="0.3" stroke-width="0.35"/>
<polygon points="76.97,103.19 87.38,100.52 85.43,108.43" fill="#d7d7d7" fill-opacity="0.48" stroke="#7a7a7a" stroke-opacity="0.3" stroke-width="0.35"/>
<polygon points="94.99,190.76 110.59,179.34 107.8,201.87" fill="#949494" fill-opacity="0.75" stroke="#7a7a7a" stroke-opacity="0.3" stroke-width="0.35"/>
<polygon points="142.9,106.17 129.6,122.04 124.13,108.83" fill="#c4c4c4" fill-opacity="0.71" stroke="#7a7a7a" stroke-opacity="0.3" stroke-width="0.35"/>
<polygon points="144.04,178.35 130.94,176.24 143.39,167.67" fill="#a3a3a3" fill-opacity="0.56" stroke="#7a7a7a" stroke-opacity="0.3" stroke-width="0.35"/>
<polygon points="141.84,147.73 152.34,131.6 156.84,153.36" fill="#d1d1d1" fill-opacity="0.51" stroke="#7a7a7a" stroke-opacity="0.3" stroke-width="0.35"/>
<polygon points="178.24,127.75 167.78,124.25 180.15,110.32" fill="#939393" fill-opacity="0.63" stroke="#7a7a7a" stroke-opacity="0.3" stroke-width="0.35"/>
<polygon points="132.49,118.94 146.53,121.96 132.34,134.78" fill="#c2c2c2" fill-opacity="0.55" stroke="#7a7a7a" stroke-opacity="0.3" stroke-width="0.35"/>
<polygon points="125.2,112.39 115.06,97.77 136.44,94.21" fill="#828282" fill-opacity="0.62" stroke="#7a7a7a" stroke-opacity="0.3" stroke-width="0.35"/>
<polygon points="126.08,128.02 138.33,114.1 137.81,140.53" fill="#aeaeae" fill-opacity="0.77" stroke="#7a7a7a" stroke-opacity="0.3" stroke-width="0.35"/>
<polygon points="175.62,185.87 173.62,200.74 158.79,197.32" fill="#dfdfdf" fill-opacity="0.57" stroke="#7a7a7a" stroke-opacity="0.3" stroke-width="0.35"/>
<polygon points="197.23,165.8 186.8,176.59 182.87,155.77" fill="#cfcfcf" fill-opacity="0.56" stroke="#7a7a7a" stroke-opacity="0.3" stroke-width="0.35"/>
<polygon points="187,222.63 172.1,215.37 189.35,206.51" fill="#868686" fill-opacity="0.67" stroke="#7a7a7a" stroke-opacity="0.3" stroke-width="0.35"/>
<polygon points="145.96,137.08 133.3,147.01 135.75,129.99" fill="#adadad" fill-opacity="0.63" stroke="#7a7a7a" stroke-opacity="0.3" stroke-width="0.35"/>
<polygon points="102.01,116.49 114.41,121.97 101.42,128.73" fill="#d3d3d3" fill-opacity="0.79" stroke="#7a7a7a" stroke-opacity="0.3" stroke-width="0.35"/>
<polygon points="180.53,131.58 192.67,128.27 189.49,140.28" fill="#c1c1c1" fill-opacity="0.54" stroke="#7a7a7a" stroke-opacity="0.3" stroke-width="0.35"/>
<polygon points="85.35,167.4 82.75,161.03 89.71,166.12" fill="#bdbdbd" fill-opacity="0.53" stroke="#7a7a7a" stroke-opacity="0.3" stroke-width="0.35"/>
<polygon points="167.77,176.68 179.24,184.01 163.42,193.92" fill="#d1d1d1" fill-opacity="0.52" stroke="#7a7a7a" stroke-opacity="0.3" stroke-width="0.35"/>
<polygon points="91.13,190.77 94.39,173.05 106.15,181.02" fill="#787878" fill-opacity="0.76" stroke="#7a7a7a" stroke-opacity="0.3" stroke-width="0.35"/>
<polygon points="59.16,95.3 64.98,98.83 57.21,100.78" fill="#dbdbdb" fill-opacity="0.68" stroke="#7a7a7a" stroke-opacity="0.3" stroke-width="0.35"/>
<polygon points="167.12,165.07 174.11,169.9 167.68,174.24" fill="#c3c3c3" fill-opacity="0.78" stroke="#7a7a7a" stroke-opacity="0.3" stroke-width="0.35"/>
<polygon points="193.92,156.71 193.81,146.8 208.84,154.5" fill="#cbcbcb" fill-opacity="0.59" stroke="#7a7a7a" stroke-opacity="0.3" stroke-width="0.35"/>
<polygon points="123.68,197.42 126.16,208.25 114.07,205.94" fill="#a3a3a3" fill-opacity="0.56" stroke="#7a7a7a" stroke-opacity="0.3" stroke-width="0.35"/>
<polygon points="191.43,142.2 183.94,159.12 178.85,143.56" fill="#bebebe" fill-opacity="0.68" stroke="#7a7a7a" stroke-opacity="0.3" stroke-width="0.35"/>
<polygon points="191.35,125.71 178.63,138.58 169.54,122.26" fill="#8b8b8b" fill-opacity="0.57" stroke="#7a7a7a" stroke-opacity="0.3" stroke-width="0.35"/>
<polygon points="117.05,185.33 129.52,189.27 120.3,192.87" fill="#aaaaaa" fill-opacity="0.65" stroke="#7a7a7a" stroke-opacity="0.3" stroke-width="0.35"/>
<polygon points="187.47,190.75 202.69,195.46 196.15,206.55" fill="#a4a4a4" fill-opacity="0.8" stroke="#7a7a7a" stroke-opacity="0.3" stroke-width="0.35"/>
<polygon points="104.89,194.66 100.17,177.34 121.33,179.67" fill="#a9a9a9" fill-opacity="0.68" stroke="#7a7a7a" stroke-opacity="0.3" stroke-width="0.35"/>
<polygon points="112.1,110.66 128.2,96.58 132.88,114.64" fill="#c9c9c9" fill-opacity="0.69" stroke="#7a7a7a" stroke-opacity="0.3" stroke-width="0.35"/>
<polygon points="171.29,204.71 163.89,194.84 177.71,194.9" fill="#cacaca" fill-opacity="0.56" stroke="#7a7a7a" stroke-opacity="0.3" stroke-width="0.35"/>
<polygon points="207.4,213.68 195.31,206.89 205.82,202.99" fill="#b6b6b6" fill-opacity="0.74" stroke="#7a7a7a" stroke-opacity="0.3" stroke-width="0.35"/>
<polygon points="177.59,172.84 176.85,186.61 166.8,174.98" fill="#c4c4c4" fill-opacity="0.66" stroke="#7a7a7a" stroke-opacity="0.3" stroke-width="0.35"/>
<polygon points="93.13,167.91 88.57,173.87 88.22,165.25" fill="#dcdcdc" fill-opacity="0.7" stroke="#7a7a7a" stroke-opacity="0.3" stroke-width="0.35"/>
<polygon points="121.07,122.36 104.76,122.96 113.25,111.07" fill="#cacaca" fill-opacity="0.47" stroke="#7a7a7a" stroke-opacity="0.3" stroke-width="0.35"/>
<polygon points="162.56,201.82 151.52,204.35 157.56,193.92" fill="#b3b3b3" fill-opacity="0.55" stroke="#7a7a7a" stroke-opacity="0.3" stroke-width="0.35"/>
<polygon points="150.3,142.01 141.64,134.98 155.15,132.24" fill="#dfdfdf" fill-opacity="0.49" stroke="#7a7a7a" stroke-opacity="0.3" stroke-width="0.35"/>
<polygon points="191.34,157.23 193.56,141.39 207.57,150.36" fill="#b6b6b6" fill-opacity="0.63" stroke="#7a7a7a" stroke-opacity="0.3" stroke-width="0.35"/>
<polygon points="137.14,151.44 140.34,159.87 124.78,164.89" fill="#cfcfcf" fill-opacity="0.67" stroke="#7a7a7a" stroke-opacity="0.3" stroke-width="0.35"/>
<polygon points="201.35,187.63 212.85,197.87 191.27,203.62" fill="#e2e2e2" fill-opacity="0.48" stroke="#7a7a7a" stroke-opacity="0.3" stroke-width="0.35"/>
<polygon points="152.33,148.22 152.7,162.99 139.81,157.64" fill="#b3b3b3" fill-opacity="0.59" stroke="#7a7a7a" stroke-opacity="0.3" stroke-width="0.35"/>
<polygon points="172.17,98.88 160.23,112.99 153.9,100.48" fill="#dbdbdb" fill-opacity="0.53" stroke="#7a7a7a" stroke-opacity="0.3" stroke-width="0.35"/>
<polygon points="124.19,156.17 134.63,153.02 130.71,165.13" fill="#adadad" fill-opacity="0.72" stroke="#7a7a7a" stroke-opacity="0.3" stroke-width="0.35"/>
<polygon points="144.17,112.49 143.66,96.85 155.37,93.24" fill="#c6c6c6" fill-opacity="0.46" stroke="#7a7a7a" stroke-opacity="0.3" stroke-width="0.35"/>
<polygon points="86.64,166.99 82.94,177.86 77.22,168.96" fill="#dddddd" fill-opacity="0.51" stroke="#7a7a7a" stroke-opacity="0.3" stroke-width="0.35"/>
<polygon points="88.45,121.99 98.22,124.05 86.86,129.7" fill="#f3f3f3" fill-opacity="0.67" stroke="#7a7a7a" stroke-opacity="0.3" stroke-width="0.35"/>
<polygon points="125.41,184.89 112.46,185.89 110.98,172.72" fill="#b4b4b4" fill-opacity="0.58" stroke="#7a7a7a" stroke-opacity="0.3" stroke-width="0.35"/>
<polygon points="146.15,207.46 157.57,202.53 160.15,212.82" fill="#e4e4e4" fill-opacity="0.46" stroke="#7a7a7a" stroke-opacity="0.3" stroke-width="0.35"/>
<polygon points="79.9,143.61 88.43,149.35 81.22,153.92" fill="#e7e7e7" fill-opacity="0.51" stroke="#7a7a7a" stroke-opacity="0.3" stroke-width="0.35"/>
<polygon points="55.4,97.16 58.08,86.16 60.77,95.92" fill="#e0e0e0" fill-opacity="0.52" stroke="#7a7a7a" stroke-opacity="0.3" stroke-width="0.35"/>
<polygon points="74.57,118.91 65.91,115.64 73.47,110.51" fill="#dedede" fill-opacity="0.59" stroke="#7a7a7a" stroke-opacity="0.3" stroke-width="0.35"/>
<polygon points="137,100.27 125.02,89.01 139.03,86.12" fill="#c1c1c1" fill-opacity="0.58" stroke="#7a7a7a" stroke-opacity="0.3" stroke-width="0.35"/>
<polygon points="178.99,129.68 177.47,148.57 166.2,129.55" fill="#cacaca" fill-opacity="0.77" stroke="#7a7a7a" stroke-opacity="0.3" stroke-width="0.35"/>
<polygon points="80.85,132.32 88.15,145.87 77.51,143.64" fill="#f5f5f5" fill-opacity="0.65" stroke="#7a7a7a" stroke-opacity="0.3" stroke-width="0.35"/>
<polygon points="205.77,182.74 185.56,180.67 196.66,161.48" fill="#b9b9b9" fill-opacity="0.55" stroke="#7a7a7a" stroke-opacity="0.3" stroke-width="0.35"/>
<polygon points="98.01,167.41 106.84,161.14 110.69,172.24" fill="#bfbfbf" fill-opacity="0.64" stroke="#7a7a7a" stroke-opacity="0.3" stroke-width="0.35"/>
<polygon points="95.93,119.22 118.62,119.68 100.42,136.91" fill="#a9a9a9" fill-opacity="0.78" stroke="#7a7a7a" stroke-opacity="0.3" stroke-width="0.35"/>
<polygon points="119.45,136.83 121.3,124.38 134.76,131.89" fill="#c6c6c6" fill-opacity="0.51" stroke="#7a7a7a" stroke-opacity="0.3" stroke-width="0.35"/>
<polygon points="159.25,176.11 140.28,185.63 151.05,164.38" fill="#e5e5e5" fill-opacity="0.75" stroke="#7a7a7a" stroke-opacity="0.3" stroke-width="0.35"/>
<polygon points="122.78,103.03 113.29,110.64 113.27,96.59" fill="#919191" fill-opacity="0.57" stroke="#7a7a7a" stroke-opacity="0.3" stroke-width="0.35"/>
<polygon points="171.53,195.64 186.12,203.04 175.43,213.12" fill="#a4a4a4" fill-opacity="0.61" stroke="#7a7a7a" stroke-opacity="0.3" stroke-width="0.35"/>
<polygon points="90.2,169.56 103.11,159.34 96.41,177.5" fill="#ababab" fill-opacity="0.63" stroke="#7a7a7a" stroke-opacity="0.3" stroke-width="0.35"/>
<polygon points="180.18,142.49 195.32,126 200.72,145.29" fill="#e4e4e4" fill-opacity="0.48" stroke="#7a7a7a" stroke-opacity="0.3" stroke-width="0.35"/>
<polygon points="161.86,111.61 169.12,102.67 176.83,112.2" fill="#c3c3c3" fill-opacity="0.76" stroke="#7a7a7a" stroke-opacity="0.3" stroke-width="0.35"/>
<polygon points="139.67,104.16 135.06,111.93 128.27,104.16" fill="#bebebe" fill-opacity="0.47" stroke="#7a7a7a" stroke-opacity="0.3" stroke-width="0.35"/>
<polygon points="164.35,141.7 171.73,158.56 152.1,156.33" fill="#dadada" fill-opacity="0.48" stroke="#7a7a7a" stroke-opacity="0.3" stroke-width="0.35"/>
<polygon points="165.86,128.33 159.38,138.68 147.27,124.56" fill="#eaeaea" fill-opacity="0.75" stroke="#7a7a7a" stroke-opacity="0.3" stroke-width="0.35"/>
<polygon points="95.56,165.54 89.97,161.21 97.58,156.78" fill="#c6c6c6" fill-opacity="0.48" stroke="#7a7a7a" stroke-opacity="0.3" stroke-width="0.35"/>
<polygon points="133.19,182 136.22,166.3 145.27,176.07" fill="#c6c6c6" fill-opacity="0.66" stroke="#7a7a7a" stroke-opacity="0.3" stroke-width="0.35"/>
<polygon points="196.93,164.46 183.11,178.22 176.17,159.85" fill="#bfbfbf" fill-opacity="0.75" stroke="#7a7a7a" stroke-opacity="0.3" stroke-width="0.35"/>
<polygon points="182.63,181.72 187.4,168.83 201.56,184.69" fill="#d9d9d9" fill-opacity="0.56" stroke="#7a7a7a" stroke-opacity="0.3" stroke-width="0.35"/>
<polygon points="115.26,99.45 123.97,101.1 116.25,112.62" fill="#a4a4a4" fill-opacity="0.52" stroke="#7a7a7a" stroke-opacity="0.3" stroke-width="0.35"/>
<polygon points="96.87,137.31 106.77,148.46 98.16,148.94" fill="#c9c9c9" fill-opacity="0.48" stroke="#7a7a7a" stroke-opacity="0.3" stroke-width="0.35"/>
<polygon points="183.87,168.22 187.82,161.57 195.51,171.57" fill="#aaaaaa" fill-opacity="0.75" stroke="#7a7a7a" stroke-opacity="0.3" stroke-width="0.35"/>
<polygon points="157.76,110.28 144.67,113.4 146.98,92.24" fill="#e6e6e6" fill-opacity="0.65" stroke="#7a7a7a" stroke-opacity="0.3" stroke-width="0.35"/>
<polygon points="199.85,203.43 215.87,213.19 203.46,221.94" fill="#919191" fill-opacity="0.69" stroke="#7a7a7a" stroke-opacity="0.3" stroke-width="0.35"/>
<polygon points="158.06,192.98 140.75,201.15 148.89,180.82" fill="#bebebe" fill-opacity="0.61" stroke="#7a7a7a" stroke-opacity="0.3" stroke-width="0.35"/>
<polygon points="139.92,133.49 140.01,119.77 161.21,120.07" fill="#d6d6d6" fill-opacity="0.72" stroke="#7a7a7a" stroke-opacity="0.3" stroke-width="0.35"/>
<polygon points="145.88,176.81 157.68,166.93 158.68,180.1" fill="#d0d0d0" fill-opacity="0.52" stroke="#7a7a7a" stroke-opacity="0.3" stroke-width="0.35"/>
<polygon points="149.22,165.81 143.13,171.49 143.23,159.61" fill="#c9c9c9" fill-opacity="0.78" stroke="#7a7a7a" stroke-opacity="0.3" stroke-width="0.35"/>
<polygon points="85.8,109.5 84.3,103.63 89.53,102.39" fill="#a7a7a7" fill-opacity="0.68" stroke="#7a7a7a" stroke-opacity="0.3" stroke-width="0.35"/>
<polygon points="169.02,191.91 178.51,180.27 180.79,195.95" fill="#b9b9b9" fill-opacity="0.47" stroke="#7a7a7a" stroke-opacity="0.3" stroke-width="0.35"/>
<polygon points="125.39,138.85 114,136.58 117.17,130.11" fill="#b6b6b6" fill-opacity="0.56" stroke="#7a7a7a" stroke-opacity="0.3" stroke-width="0.35"/>
<polygon points="205.34,139.98 191.09,143.38 199.56,133.75" fill="#d0d0d0" fill-opacity="0.72" stroke="#7a7a7a" stroke-opacity="0.3" stroke-width="0.35"/>
<polygon points="173.51,136.53 173.52,120.08 187.27,133.19" fill="#dddddd" fill-opacity="0.79" stroke="#7a7a7a" stroke-opacity="0.3" stroke-width="0.35"/>
<polygon points="94.59,136.32 113.51,151.19 102.07,155.81" fill="#afafaf" fill-opacity="0.78" stroke="#7a7a7a" stroke-opacity="0.3" stroke-width="0.35"/>
<polygon points="153.56,200.83 150.1,194.13 157.98,190.08" fill="#d8d8d8" fill-opacity="0.64" stroke="#7a7a7a" stroke-opacity="0.3" stroke-width="0.35"/>
<polygon points="127.27,164.18 116.46,168.06 117.18,157.75" fill="#b7b7b7" fill-opacity="0.49" stroke="#7a7a7a" stroke-opacity="0.3" stroke-width="0.35"/>
<polygon points="123.95,143.98 107.64,153.31 108.41,137.58" fill="#cdcdcd" fill-opacity="0.63" stroke="#7a7a7a" stroke-opacity="0.3" stroke-width="0.35"/>
<polygon points="189.44,186.24 200.04,201.9 178.55,205.36" fill="#c4c4c4" fill-opacity="0.71" stroke="#7a7a7a" stroke-opacity="0.3" stroke-width="0.35"/>
<polygon points="168.51,169.54 149.68,169.15 157.08,157.69" fill="#c7c7c7" fill-opacity="0.71" stroke="#7a7a7a" stroke-opacity="0.3" stroke-width="0.35"/>
<polygon points="138.39,178.15 135.97,193.8 130.59,180.53" fill="#dfdfdf" fill-opacity="0.71" stroke="#7a7a7a" stroke-opacity="0.3" stroke-width="0.35"/>
<polygon points="141.26,104.2 142.56,86.69 150.59,93.34" fill="#c9c9c9" fill-opacity="0.69" stroke="#7a7a7a" stroke-opacity="0.3" stroke-width="0.35"/>
<polygon points="64.97,133.51 74.17,128.1 71.52,137.81" fill="#d4d4d4" fill-opacity="0.61" stroke="#7a7a7a" stroke-opacity="0.3" stroke-width="0.35"/>
<polygon points="168.75,166.23 162.74,174.24 159.89,158.53" fill="#dedede" fill-opacity="0.46" stroke="#7a7a7a" stroke-opacity="0.3" stroke-width="0.35"/>
<polygon points="95.09,116.95 89.49,127.84 87.26,117.07" fill="#d1d1d1" fill-opacity="0.63" stroke="#7a7a7a" stroke-opacity="0.3" stroke-width="0.35"/>
<polygon points="93.66,163.54 97.22,148.94 110.01,153.01" fill="#8c8c8c" fill-opacity="0.78" stroke="#7a7a7a" stroke-opacity="0.3" stroke-width="0.35"/>
<polygon points="216.48,190.78 217.19,210.25 204.66,195.89" fill="#dcdcdc" fill-opacity="0.62" stroke="#7a7a7a" stroke-opacity="0.3" stroke-width="0.35"/>
<polygon points="123.81,167.07 140.64,173.36 119.57,183.65" fill="#cdcdcd" fill-opacity="0.61" stroke="#7a7a7a" stroke-opacity="0.3" stroke-width="0.35"/>
<polygon points="82.52,147.9 89.77,143.9 88.82,151.74" fill="#b3b3b3" fill-opacity="0.77" stroke="#7a7a7a" stroke-opacity="0.3" stroke-width="0.35"/>
<polygon points="194.49,162.91 210.53,160.13 205.25,178.96" fill="#d8d8d8" fill-opacity="0.77" stroke="#7a7a7a" stroke-opacity="0.3" stroke-width="0.35"/>
<polygon points="181.28,168.4 165.7,175.07 160.28,158.42" fill="#e3e3e3" fill-opacity="0.58" stroke="#7a7a7a" stroke-opacity="0.3" stroke-width="0.35"/>
<polygon points="169.6,209.18 164.88,227.18 153.14,216.48" fill="#a0a0a0" fill-opacity="0.56" stroke="#7a7a7a" stroke-opacity="0.3" stroke-width="0.35"/>
<polygon points="128.36,128.54 112.41,132.44 119.84,112.88" fill="#989898" fill-opacity="0.52" stroke="#7a7a7a" stroke-opacity="0.3" stroke-width="0.35"/>
<polygon points="140,122.44 139.38,113.92 149.07,115.87" fill="#f5f5f5" fill-opacity="0.47" stroke="#7a7a7a" stroke-opacity="0.3" stroke-width="0.35"/>
<polygon points="115.43,115.19 118.28,136.48 106.15,132.31" fill="#b6b6b6" fill-opacity="0.8" stroke="#7a7a7a" stroke-opacity="0.3" stroke-width="0.35"/>
<polygon points="152.28,179.21 138.72,175.07 151.29,162.94" fill="#9c9c9c" fill-opacity="0.68" stroke="#7a7a7a" stroke-opacity="0.3" stroke-width="0.35"/>
<polygon points="88.61,113.38 106.08,117.71 91.14,125.71" fill="#aeaeae" fill-opacity="0.48" stroke="#7a7a7a" stroke-opacity="0.3" stroke-width="0.35"/>
<polygon points="158.06,94.24 151.35,103.47 149.84,94.84" fill="#e7e7e7" fill-opacity="0.76" stroke="#7a7a7a" stroke-opacity="0.3" stroke-width="0.35"/>
<polygon points="199.62,155.67 186.65,161.43 192.64,146.8" fill="#c5c5c5" fill-opacity="0.57" stroke="#7a7a7a" stroke-opacity="0.3" stroke-width="0.35"/>
<polygon points="178.23,164.49 192.31,160.38 186.27,171.75" fill="#aaaaaa" fill-opacity="0.52" stroke="#7a7a7a" stroke-opacity="0.3" stroke-width="0.35"/>
<polygon points="189.02,216.54 173.41,221.39 184.72,208.27" fill="#bababa" fill-opacity="0.5" stroke="#7a7a7a" stroke-opacity="0.3" stroke-width="0.35"/>
<polygon points="116.24,145.62 116.85,132.57 138.27,136.58" fill="#cecece" fill-opacity="0.47" stroke="#7a7a7a" stroke-opacity="0.3" stroke-width="0.35"/>
<polygon points="179.23,113.01 183.2,127.51 161.94,114.23" fill="#bfbfbf" fill-opacity="0.58" stroke="#7a7a7a" stroke-opacity="0.3" stroke-width="0.35"/>
<polygon points="202.35,140.69 202.75,128.13 210.94,133.23" fill="#c3c3c3" fill-opacity="0.47" stroke="#7a7a7a" stroke-opacity="0.3" stroke-width="0.35"/>
<polygon points="129.28,186.77 129.45,198.75 120.21,193.78" fill="#adadad" fill-opacity="0.69" stroke="#7a7a7a" stroke-opacity="0.3" stroke-width="0.35"/>
<polygon points="88.83,118.64 86.85,111.14 92.57,112.19" fill="#9b9b9b" fill-opacity="0.78" stroke="#7a7a7a" stroke-opacity="0.3" stroke-width="0.35"/>
<polygon points="207.65,199.24 193.91,207.57 193.33,200.31" fill="#dfdfdf" fill-opacity="0.66" stroke="#7a7a7a" stroke-opacity="0.3" stroke-width="0.35"/>
<polygon points="143.06,108.9 122.48,104.51 138.7,97.95" fill="#cecece" fill-opacity="0.56" stroke="#7a7a7a" stroke-opacity="0.3" stroke-width="0.35"/>
<polygon points="180.18,191.46 167.84,200.83 163.69,191.56" fill="#c5c5c5" fill-opacity="0.8" stroke="#7a7a7a" stroke-opacity="0.3" stroke-width="0.35"/>
<polygon points="114.89,145.78 94.75,151.97 96.63,138.15" fill="#9a9a9a" fill-opacity="0.69" stroke="#7a7a7a" stroke-opacity="0.3" stroke-width="0.35"/>
<polygon points="210.53,154.6 220.52,149.03 215.44,162.18" fill="#d0d0d0" fill-opacity="0.6" stroke="#7a7a7a" stroke-opacity="0.3" stroke-width="0.35"/>
<polygon points="146.25,145.34 149.28,135.51 157.71,145.28" fill="#b6b6b6" fill-opacity="0.66" stroke="#7a7a7a" stroke-opacity="0.3" stroke-width="0.35"/>
<polygon points="198.73,167.1 197.24,155.25 206.15,156.65" fill="#9f9f9f" fill-opacity="0.78" stroke="#7a7a7a" stroke-opacity="0.3" stroke-width="0.35"/>
<polygon points="146.53,120.6 156.93,118.5 156.71,126.36" fill="#d8d8d8" fill-opacity="0.73" stroke="#7a7a7a" stroke-opacity="0.3" stroke-width="0.35"/>
<polygon points="92.15,161.95 100.95,170.83 88.18,174.25" fill="#bcbcbc" fill-opacity="0.57" stroke="#7a7a7a" stroke-opacity="0.3" stroke-width="0.35"/>
<polygon points="213.19,160.61 224.13,160.08 216.69,170.15" fill="#949494" fill-opacity="0.72" stroke="#7a7a7a" stroke-opacity="0.3" stroke-width="0.35"/>
<polygon points="109.29,126.22 104.7,149.19 86.42,135.08" fill="#a8a8a8" fill-opacity="0.65" stroke="#7a7a7a" stroke-opacity="0.3" stroke-width="0.35"/>
<polygon points="91.86,168.11 99.86,173.44 87.81,174.53" fill="#e6e6e6" fill-opacity="0.63" stroke="#7a7a7a" stroke-opacity="0.3" stroke-width="0.35"/>
<polygon points="148.87,157.3 161.28,152.3 153.78,173" fill="#c5c5c5" fill-opacity="0.63" stroke="#7a7a7a" stroke-opacity="0.3" stroke-width="0.35"/>
<polygon points="139.01,114.66 124.04,118.56 125.78,102.34" fill="#d8d8d8" fill-opacity="0.51" stroke="#7a7a7a" stroke-opacity="0.3" stroke-width="0.35"/>
<polygon points="154.52,166.9 166.85,156.77 171.85,173.36" fill="#989898" fill-opacity="0.67" stroke="#7a7a7a" stroke-opacity="0.3" stroke-width="0.35"/>
<polygon points="141,195.19 146.27,182.29 154.17,194.86" fill="#a1a1a1" fill-opacity="0.62" stroke="#7a7a7a" stroke-opacity="0.3" stroke-width="0.35"/>
<polygon points="113.39,95.84 123.65,99.34 116.09,106.6" fill="#a0a0a0" fill-opacity="0.68" stroke="#7a7a7a" stroke-opacity="0.3" stroke-width="0.35"/>
<polygon points="144.07,89.02 156.42,102.6 142.26,107.49" fill="#a6a6a6" fill-opacity="0.51" stroke="#7a7a7a" stroke-opacity="0.3" stroke-width="0.35"/>
<polygon points="185.13,106.62 175.1,122.76 174.02,102.52" fill="#b2b2b2" fill-opacity="0.51" stroke="#7a7a7a" stroke-opacity="0.3" stroke-width="0.35"/>
<polygon points="120.84,153.74 100.35,149.81 115.75,136.69" fill="#a6a6a6" fill-opacity="0.78" stroke="#7a7a7a" stroke-opacity="0.3" stroke-width="0.35"/>
<polygon points="158.19,114.66 157.95,131.91 147.7,125.26" fill="#b1b1b1" fill-opacity="0.66" stroke="#7a7a7a" stroke-opacity="0.3" stroke-width="0.35"/>
<polygon points="102.09,163.21 100.49,178.01 91.06,172.31" fill="#bbbbbb" fill-opacity="0.7" stroke="#7a7a7a" stroke-opacity="0.3" stroke-width="0.35"/>
<polygon points="131.06,169.44 129.89,184.05 119.7,175.77" fill="#a1a1a1" fill-opacity="0.78" stroke="#7a7a7a" stroke-opacity="0.3" stroke-width="0.35"/>
<polygon points="171.41,196.66 165.56,208.93 152.22,198.61" fill="#b7b7b7" fill-opacity="0.62" stroke="#7a7a7a" stroke-opacity="0.3" stroke-width="0.35"/>
<polygon points="84.62,157.3 81.11,150.76 92.05,150.29" fill="#d6d6d6" fill-opacity="0.66" stroke="#7a7a7a" stroke-opacity="0.3" stroke-width="0.35"/>
<polygon points="189.9,217.4 180.88,223.84 179.57,212.34" fill="#dadada" fill-opacity="0.46" stroke="#7a7a7a" stroke-opacity="0.3" stroke-width="0.35"/>
<polygon points="79.83,127.48 89.01,118.24 89.83,126.99" fill="#c5c5c5" fill-opacity="0.72" stroke="#7a7a7a" stroke-opacity="0.3" stroke-width="0.35"/>
<polygon points="70.36,109.99 64.64,103.19 74.09,102.03" fill="#a8a8a8" fill-opacity="0.61" stroke="#7a7a7a" stroke-opacity="0.3" stroke-width="0.35"/>
<polygon points="191.18,161.23 177.64,153.43 187.17,145.52" fill="#b1b1b1" fill-opacity="0.45" stroke="#7a7a7a" stroke-opacity="0.3" stroke-width="0.35"/>
<polygon points="132.62,149.36 142,156.53 129.12,160.29" fill="#dddddd" fill-opacity="0.6" stroke="#7a7a7a" stroke-opacity="0.3" stroke-width="0.35"/>
<polygon points="182.14,162.15 192.85,156.53 189.41,165.41" fill="#c5c5c5" fill-opacity="0.53" stroke="#7a7a7a" stroke-opacity="0.3" stroke-width="0.35"/>
<polygon points="177.31,169.94 183.44,180.57 174.16,178.86" fill="#c2c2c2" fill-opacity="0.73" stroke="#7a7a7a" stroke-opacity="0.3" stroke-width="0.35"/>
<polygon points="163.32,157.93 150.25,160.55 156.5,149.8" fill="#bfbfbf" fill-opacity="0.74" stroke="#7a7a7a" stroke-opacity="0.3" stroke-width="0.35"/>
<polygon points="152.67,193.52 148.49,211.83 131.87,208.46" fill="#a8a8a8" fill-opacity="0.54" stroke="#7a7a7a" stroke-opacity="0.3" stroke-width="0.35"/>
<polygon points="151.3,165.71 160.93,148.94 165.51,163.71" fill="#b7b7b7" fill-opacity="0.67" stroke="#7a7a7a" stroke-opacity="0.3" stroke-width="0.35"/>
<polygon points="186.09,178.55 193.98,192.1 174.5,198.24" fill="#cccccc" fill-opacity="0.6" stroke="#7a7a7a" stroke-opacity="0.3" stroke-width="0.35"/>
<polygon points="155.95,155.16 142.54,159.63 147.47,146.05" fill="#cfcfcf" fill-opacity="0.46" stroke="#7a7a7a" stroke-opacity="0.3" stroke-width="0.35"/>
<polygon points="172.04,203.2 157.59,196.24 176.02,189.86" fill="#b0b0b0" fill-opacity="0.68" stroke="#7a7a7a" stroke-opacity="0.3" stroke-width="0.35"/>
<polygon points="71.99,120.11 79.03,119.74 74.58,126.04" fill="#dcdcdc" fill-opacity="0.55" stroke="#7a7a7a" stroke-opacity="0.3" stroke-width="0.35"/>
<polygon points="135.61,157.56 156.71,167.14 137.59,174.83" fill="#bebebe" fill-opacity="0.75" stroke="#7a7a7a" stroke-opacity="0.3" stroke-width="0.35"/>
<polygon points="138.49,125.47 146.77,114.77 152.75,125" fill="#9f9f9f" fill-opacity="0.59" stroke="#7a7a7a" stroke-opacity="0.3" stroke-width="0.35"/>
<polygon points="203.14,175.15 204.57,160.41 219.2,169.55" fill="#bdbdbd" fill-opacity="0.51" stroke="#7a7a7a" stroke-opacity="0.3" stroke-width="0.35"/>
<polygon points="115.41,145.13 111.7,131.33 127,138.43" fill="#848484" fill-opacity="0.76" stroke="#7a7a7a" stroke-opacity="0.3" stroke-width="0.35"/>
<polygon points="184.42,191.92 177.58,207.79 162.97,192.78" fill="#dcdcdc" fill-opacity="0.45" stroke="#7a7a7a" stroke-opacity="0.3" stroke-width="0.35"/>
<polygon points="113.93,146.36 134.99,146.49 121.57,165.47" fill="#aeaeae" fill-opacity="0.56" stroke="#7a7a7a" stroke-opacity="0.3" stroke-width="0.35"/>
<polygon points="96.73,154.74 91.08,163.66 89.08,153.62" fill="#d7d7d7" fill-opacity="0.48" stroke="#7a7a7a" stroke-opacity="0.3" stroke-width="0.35"/>
<polygon points="61.53,114.87 55.3,113.78 62.22,109.86" fill="#f0f0f0" fill-opacity="0.48" stroke="#7a7a7a" stroke-opacity="0.3" stroke-width="0.35"/>
<polygon points="96.17,190.56 109.65,186.1 102.99,197.57" fill="#c5c5c5" fill-opacity="0.6" stroke="#7a7a7a" stroke-opacity="0.3" stroke-width="0.35"/>
<polygon points="153.3,109.47 143.86,116.37 140.38,104.94" fill="#cecece" fill-opacity="0.61" stroke="#7a7a7a" stroke-opacity="0.3" stroke-width="0.35"/>
<polygon points="185.52,144.6 188.49,154.26 180.05,155.01" fill="#ededed" fill-opacity="0.79" stroke="#7a7a7a" stroke-opacity="0.3" stroke-width="0.35"/>
<polygon points="196.19,155.89 212.24,150.22 208.77,171.32" fill="#b4b4b4" fill-opacity="0.52" stroke="#7a7a7a" stroke-opacity="0.3" stroke-width="0.35"/>
<polygon points="146.47,145.44 131.71,152.24 139.28,135.35" fill="#e0e0e0" fill-opacity="0.71" stroke="#7a7a7a" stroke-opacity="0.3" stroke-width="0.35"/>
<polygon points="179.96,216.73 184.28,207.36 193.9,218.47" fill="#cacaca" fill-opacity="0.69" stroke="#7a7a7a" stroke-opacity="0.3" stroke-width="0.35"/>
<polygon points="206.01,168.91 216.17,158.79 215.96,174.61" fill="#acacac" fill-opacity="0.67" stroke="#7a7a7a" stroke-opacity="0.3" stroke-width="0.35"/>
<polygon points="201.64,169.29 194.88,178.94 190.9,170.59" fill="#cacaca" fill-opacity="0.68" stroke="#7a7a7a" stroke-opacity="0.3" stroke-width="0.35"/>
<polygon points="154.61,129.02 169.34,110.56 176.31,131.35" fill="#cdcdcd" fill-opacity="0.56" stroke="#7a7a7a" stroke-opacity="0.3" stroke-width="0.35"/>
<polygon points="178.69,159.53 187.33,170.94 178.06,171.93" fill="#cccccc" fill-opacity="0.46" stroke="#7a7a7a" stroke-opacity="0.3" stroke-width="0.35"/>
<polygon points="128.96,209.39 114.94,192.14 129.48,190.44" fill="#ababab" fill-opacity="0.45" stroke="#7a7a7a" stroke-opacity="0.3" stroke-width="0.35"/>
<polygon points="88.35,129.71 75.97,133.65 75.5,124.57" fill="#f5f5f5" fill-opacity="0.65" stroke="#7a7a7a" stroke-opacity="0.3" stroke-width="0.35"/>
<polygon points="155.2,191.86 169.5,186.71 166.6,207.46" fill="#b8b8b8" fill-opacity="0.78" stroke="#7a7a7a" stroke-opacity="0.3" stroke-width="0.35"/>
<polygon points="198.57,128.63 210.73,131.57 202.44,138.55" fill="#b8b8b8" fill-opacity="0.53" stroke="#7a7a7a" stroke-opacity="0.3" stroke-width="0.35"/>
<polygon points="91.19,134.97 109.49,131.12 97.06,148.04" fill="#9d9d9d" fill-opacity="0.47" stroke="#7a7a7a" stroke-opacity="0.3" stroke-width="0.35"/>
<polygon points="100.77,143.59 103.2,153.6 92.78,153.18" fill="#9d9d9d" fill-opacity="0.47" stroke="#7a7a7a" stroke-opacity="0.3" stroke-width="0.35"/>
<polygon points="152.48,163.5 140.75,155.02 154.56,153.46" fill="#b9b9b9" fill-opacity="0.66" stroke="#7a7a7a" stroke-opacity="0.3" stroke-width="0.35"/>
<polygon points="92.61,182.06 100.49,183.52 93.33,189.69" fill="#c6c6c6" fill-opacity="0.67" stroke="#7a7a7a" stroke-opacity="0.3" stroke-width="0.35"/>
<polygon points="70.02,108.63 76.85,112.86 72.27,115.29" fill="#e0e0e0" fill-opacity="0.47" stroke="#7a7a7a" stroke-opacity="0.3" stroke-width="0.35"/>
<polygon points="197.41,153.65 178.45,160.2 183.79,135.06" fill="#d7d7d7" fill-opacity="0.48" stroke="#7a7a7a" stroke-opacity="0.3" stroke-width="0.35"/>
<polygon points="175.62,213.86 197.36,201.05 190.89,222.63" fill="#bebebe" fill-opacity="0.51" stroke="#7a7a7a" stroke-opacity="0.3" stroke-width="0.35"/>
<polygon points="73.38,102.49 73.73,96.52 80.42,95.95" fill="#d7d7d7" fill-opacity="0.65" stroke="#7a7a7a" stroke-opacity="0.3" stroke-width="0.35"/>
<polygon points="117.23,128.04 124.95,136.9 116.84,139.47" fill="#dbdbdb" fill-opacity="0.78" stroke="#7a7a7a" stroke-opacity="0.3" stroke-width="0.35"/>
<polygon points="165.7,115.36 157.07,123.11 156.48,108.01" fill="#b2b2b2" fill-opacity="0.7" stroke="#7a7a7a" stroke-opacity="0.3" stroke-width="0.35"/>
<polygon points="120.37,107.85 135.47,107.92 130.27,118.95" fill="#b0b0b0" fill-opacity="0.79" stroke="#7a7a7a" stroke-opacity="0.3" stroke-width="0.35"/>
<polygon points="79.55,110.06 87.8,111.96 84.04,118.07" fill="#eeeeee" fill-opacity="0.75" stroke="#7a7a7a" stroke-opacity="0.3" stroke-width="0.35"/>
<polygon points="84.18,125.05 91.7,126.73 88.71,133.21" fill="#b3b3b3" fill-opacity="0.65" stroke="#7a7a7a" stroke-opacity="0.3" stroke-width="0.35"/>
<polygon points="216.14,173.94 216.51,165.81 225.27,168.89" fill="#adadad" fill-opacity="0.77" stroke="#7a7a7a" stroke-opacity="0.3" stroke-width="0.35"/>
<polygon points="195.76,161.53 199.19,143.34 214.2,153.59" fill="#c8c8c8" fill-opacity="0.6" stroke="#7a7a7a" stroke-opacity="0.3" stroke-width="0.35"/>
<polygon points="91.1,147.58 101.53,151.89 92.56,160.9" fill="#b5b5b5" fill-opacity="0.64" stroke="#7a7a7a" stroke-opacity="0.3" stroke-width="0.35"/>
<polygon points="146.56,217.3 136.22,207.95 145.14,204.59" fill="#a5a5a5" fill-opacity="0.67" stroke="#7a7a7a" stroke-opacity="0.3" stroke-width="0.35"/>
<polygon points="127,185.8 113.16,183.53 122.61,168.18" fill="#9f9f9f" fill-opacity="0.8" stroke="#7a7a7a" stroke-opacity="0.3" stroke-width="0.35"/>
<polygon points="200.19,131.77 211.31,141.72 199.85,157.78" fill="#c6c6c6" fill-opacity="0.77" stroke="#7a7a7a" stroke-opacity="0.3" stroke-width="0.35"/>
<polygon points="89.58,144.09 93.75,155.38 84.78,153.27" fill="#b5b5b5" fill-opacity="0.55" stroke="#7a7a7a" stroke-opacity="0.3" stroke-width="0.35"/>
<polygon points="184.8,208.37 194.69,215.31 189.71,220.68" fill="#9e9e9e" fill-opacity="0.54" stroke="#7a7a7a" stroke-opacity="0.3" stroke-width="0.35"/>
<polygon points="156.47,136.33 146.04,136.23 153.45,125.42" fill="#9f9f9f" fill-opacity="0.46" stroke="#7a7a7a" stroke-opacity="0.3" stroke-width="0.35"/>
<polygon points="196.22,200.23 197.19,184.49 216.12,191.92" fill="#b6b6b6" fill-opacity="0.5" stroke="#7a7a7a" stroke-opacity="0.3" stroke-width="0.35"/>
<polygon points="79.86,146.3 87.38,143.49 83.18,153.28" fill="#e2e2e2" fill-opacity="0.6" stroke="#7a7a7a" stroke-opacity="0.3" stroke-width="0.35"/>
<polygon points="107.57,104.46 113.75,112.61 106.12,116.36" fill="#bebebe" fill-opacity="0.75" stroke="#7a7a7a" stroke-opacity="0.3" stroke-width="0.35"/>
<polygon points="164.12,162.01 157.33,180.2 144.11,162.57" fill="#c9c9c9" fill-opacity="0.76" stroke="#7a7a7a" stroke-opacity="0.3" stroke-width="0.35"/>
<polygon points="77.49,127.36 70.14,128.78 70.1,119.4" fill="#d4d4d4" fill-opacity="0.48" stroke="#7a7a7a" stroke-opacity="0.3" stroke-width="0.35"/>
<polygon points="98.51,139.25 107.38,145.68 94.64,154.01" fill="#b7b7b7" fill-opacity="0.6" stroke="#7a7a7a" stroke-opacity="0.3" stroke-width="0.35"/>
<polygon points="187.71,146.74 199.97,134.01 206.35,150.41" fill="#d8d8d8" fill-opacity="0.54" stroke="#7a7a7a" stroke-opacity="0.3" stroke-width="0.35"/>
<polygon points="95.5,132.8 105.55,128.75 99.27,140.5" fill="#bdbdbd" fill-opacity="0.52" stroke="#7a7a7a" stroke-opacity="0.3" stroke-width="0.35"/>
<polygon points="111.56,150.04 113.73,160.37 97.76,155.45" fill="#aeaeae" fill-opacity="0.57" stroke="#7a7a7a" stroke-opacity="0.3" stroke-width="0.35"/>
<polygon points="88.35,126.65 89.69,132.98 83.73,127.91" fill="#d0d0d0" fill-opacity="0.79" stroke="#7a7a7a" stroke-opacity="0.3" stroke-width="0.35"/>
<polygon points="226.23,173.87 210.65,174.87 220.03,165.22" fill="#a8a8a8" fill-opacity="0.79" stroke="#7a7a7a" stroke-opacity="0.3" stroke-width="0.35"/>
<polygon points="197.06,189.73 181.61,190.91 185.96,175.66" fill="#ebebeb" fill-opacity="0.59" stroke="#7a7a7a" stroke-opacity="0.3" stroke-width="0.35"/>
<polygon points="108.29,137.84 113.08,124.68 117.11,130.61" fill="#a2a2a2" fill-opacity="0.72" stroke="#7a7a7a" stroke-opacity="0.3" stroke-width="0.35"/>
<polygon points="119.59,169 122.47,155.82 133.06,164.18" fill="#ececec" fill-opacity="0.64" stroke="#7a7a7a" stroke-opacity="0.3" stroke-width="0.35"/>
<polygon points="208.77,205.73 210.59,217.62 195.54,212.76" fill="#cecece" fill-opacity="0.78" stroke="#7a7a7a" stroke-opacity="0.3" stroke-width="0.35"/>
<polygon points="180.38,114.74 175.85,122.9 170.49,114.39" fill="#c0c0c0" fill-opacity="0.61" stroke="#7a7a7a" stroke-opacity="0.3" stroke-width="0.35"/>
<polygon points="221.47,179.76 204.56,168.67 230.16,165.66" fill="#9b9b9b" fill-opacity="0.75" stroke="#7a7a7a" stroke-opacity="0.3" stroke-width="0.35"/>
<polygon points="230.34,188.78 213,193.83 220.52,175.3" fill="#d3d3d3" fill-opacity="0.57" stroke="#7a7a7a" stroke-opacity="0.3" stroke-width="0.35"/>
<polygon points="224.56,176.07 207.98,170.76 220.11,164.04" fill="#cdcdcd" fill-opacity="0.77" stroke="#7a7a7a" stroke-opacity="0.3" stroke-width="0.35"/>
<polygon points="59,124.79 55.15,114.42 65.87,115.98" fill="#cdcdcd" fill-opacity="0.71" stroke="#7a7a7a" stroke-opacity="0.3" stroke-width="0.35"/>
<polygon points="109.49,175.9 109.82,165.94 120.7,169.23" fill="#a4a4a4" fill-opacity="0.55" stroke="#7a7a7a" stroke-opacity="0.3" stroke-width="0.35"/>
<polygon points="91.5,170.45 82.25,169.61 88.15,164.49" fill="#dcdcdc" fill-opacity="0.58" stroke="#7a7a7a" stroke-opacity="0.3" stroke-width="0.35"/>
<polygon points="168.91,173.27 154.51,173.61 164.45,160.89" fill="#bdbdbd" fill-opacity="0.45" stroke="#7a7a7a" stroke-opacity="0.3" stroke-width="0.35"/>
<polygon points="91.29,99.13 88.1,106.13 83.85,99.17" fill="#cecece" fill-opacity="0.68" stroke="#7a7a7a" stroke-opacity="0.3" stroke-width="0.35"/>
<polygon points="147.78,174.5 160.38,175.79 150.94,185.26" fill="#a8a8a8" fill-opacity="0.49" stroke="#7a7a7a" stroke-opacity="0.3" stroke-width="0.35"/>
<polygon points="189.21,182.85 180.04,173.68 190.33,168.23" fill="#bababa" fill-opacity="0.53" stroke="#7a7a7a" stroke-opacity="0.3" stroke-width="0.35"/>
<polygon points="69.19,106.55 63.19,112.96 59.55,102.55" fill="#e7e7e7" fill-opacity="0.68" stroke="#7a7a7a" stroke-opacity="0.3" stroke-width="0.35"/>
<polygon points="211.48,130.29 193.76,141.43 191.81,122.87" fill="#969696" fill-opacity="0.65" stroke="#7a7a7a" stroke-opacity="0.3" stroke-width="0.35"/>
<polygon points="210.26,179.71 199.68,191.1 191.98,179.34" fill="#ababab" fill-opacity="0.6" stroke="#7a7a7a" stroke-opacity="0.3" stroke-width="0.35"/>
<polygon points="104.41,120.91 111.87,130.42 104.91,135.09" fill="#bfbfbf" fill-opacity="0.8" stroke="#7a7a7a" stroke-opacity="0.3" stroke-width="0.35"/>
<polygon points="208.19,147.46 206.47,169.71 196.44,160.95" fill="#a2a2a2" fill-opacity="0.7" stroke="#7a7a7a" stroke-opacity="0.3" stroke-width="0.35"/>
<polygon points="202.59,193.79 191.57,190.52 200.79,178.89" fill="#cccccc" fill-opacity="0.7" stroke="#7a7a7a" stroke-opacity="0.3" stroke-width="0.35"/>
<polygon points="139.73,215.1 144.58,197.11 157.34,207.85" fill="#b6b6b6" fill-opacity="0.46" stroke="#7a7a7a" stroke-opacity="0.3" stroke-width="0.35"/>
<polygon points="171.99,209.28 184.93,210.95 175.21,217.38" fill="#c3c3c3" fill-opacity="0.74" stroke="#7a7a7a" stroke-opacity="0.3" stroke-width="0.35"/>
<polygon points="49.47,94.13 52.44,87.27 60.09,93.12" fill="#e0e0e0" fill-opacity="0.68" stroke="#7a7a7a" stroke-opacity="0.3" stroke-width="0.35"/>
</g>
<defs><radialGradient id="hg" cx="0.62" cy="0.35" r="0.75"><stop offset="0" stop-color="#4f96f6"/><stop offset="0.5" stop-color="#2274ec"/><stop offset="1" stop-color="#1150bf"/></radialGradient><linearGradient id="tg" gradientUnits="userSpaceOnUse" x1="6" y1="138" x2="40" y2="108"><stop offset="0" stop-color="#123f9c"/><stop offset="0.3" stop-color="#1a5fd0"/><stop offset="0.6" stop-color="#2272ea"/><stop offset="1" stop-color="#2a7cf0"/></linearGradient><linearGradient id="bg" gradientUnits="userSpaceOnUse" x1="70" y1="90" x2="10" y2="215"><stop offset="0" stop-color="#2a7df2"/><stop offset="0.5" stop-color="#1f70ea"/><stop offset="1" stop-color="#1460d6"/></linearGradient></defs>
<line x1="31" y1="145" x2="58" y2="149.5" stroke="#0c3f9e" stroke-width="13.7" stroke-linecap="round"/><line x1="31" y1="145" x2="58" y2="149.5" stroke="#1862d8" stroke-width="12.5" stroke-linecap="round"/>
<line x1="59.5" y1="152" x2="53.5" y2="182" stroke="#0c3f9e" stroke-width="10.7" stroke-linecap="round"/><line x1="59.5" y1="152" x2="53.5" y2="182" stroke="#1862d8" stroke-width="9.5" stroke-linecap="round"/>
<circle cx="53" cy="185" r="5" fill="#1862d8"/>
<path d="M47,187 C50,185 56,187 62,190 L70,194 C73,196 72,199 69,199.5 L58,198 C52,197 47,195 46.5,191 Z" fill="#1862d8"/>
<circle cx="60" cy="150" r="6.2" fill="#1862d8"/>
<line x1="43" y1="100.5" x2="55" y2="106.5" stroke="#0c3f9e" stroke-width="9.7" stroke-linecap="round"/><line x1="43" y1="100.5" x2="55" y2="106.5" stroke="url(#bg)" stroke-width="8.5" stroke-linecap="round"/>
<path d="M24,96.5 C29,94 38,94 42,97.5 C46,101 47,108 45,116 C43,124 39,130 35,137 C30,146 26,153 20,158 C13,162 4,159 3,150 C3,141 6,132 9,126 C12,118 14,110 17,104 C19,100 21,98 24,96.5 Z" fill="url(#tg)" stroke="#0c3f9e" stroke-width="0.8"/>
<ellipse cx="13" cy="155.5" rx="10.5" ry="9" fill="url(#bg)"/>
<line x1="13" y1="156" x2="42" y2="168.5" stroke="#0c3f9e" stroke-width="15.7" stroke-linecap="round"/><line x1="13" y1="156" x2="42" y2="168.5" stroke="url(#bg)" stroke-width="14.5" stroke-linecap="round"/><line x1="18.61" y1="154.95" x2="38.91" y2="163.7" stroke="#5fa3f7" stroke-width="3.62" stroke-linecap="round" stroke-opacity="0.35"/>
<circle cx="43.3" cy="170" r="6.4" fill="url(#bg)"/>
<path d="M37.5,172 L49,172 L42,203 L33,202 Z" fill="url(#bg)"/>
<circle cx="37.5" cy="203.5" r="5" fill="url(#bg)"/>
<path d="M32,207 C35,205 40,207 45,210 L51,214 C54,216 54,220 51,221 L40,219.5 C34,218 30,215 30,211 Z" fill="url(#bg)"/>
<line x1="20" y1="112" x2="42" y2="132" stroke="#0c3f9e" stroke-width="12.2" stroke-linecap="round"/><line x1="20" y1="112" x2="42" y2="132" stroke="url(#bg)" stroke-width="11" stroke-linecap="round"/><line x1="24.93" y1="113.21" x2="40.33" y2="127.21" stroke="#5fa3f7" stroke-width="2.75" stroke-linecap="round" stroke-opacity="0.35"/>
<circle cx="43.7" cy="134" r="5.4" fill="url(#bg)"/>
<path d="M44,129.5 L64,143 L63,152 L42,139 Z" fill="url(#bg)"/>
<circle cx="64.5" cy="148" r="4.6" fill="url(#bg)"/>
<path d="M64,144.5 L73,148.5 C77,150.5 80,154 79.5,158 L77.5,161 C76,161.5 74,160 72,158 L64,152 Z" fill="url(#bg)"/>
<rect x="31" y="92" width="9.5" height="9" rx="3" fill="url(#bg)"/>
<ellipse cx="39.8" cy="84.6" rx="11.6" ry="12.3" fill="url(#hg)" stroke="#0c3f9e" stroke-width="0.6"/>
<ellipse cx="44" cy="81.2" rx="2.3" ry="1.5" transform="rotate(-50 44 81.2)" fill="#c4e0ff" opacity="0.85"/>
<ellipse cx="27.8" cy="108" rx="1.6" ry="1.2" fill="#cfe2ff" opacity="0.8"/>
<ellipse cx="24.4" cy="114.4" rx="1.4" ry="1.0" fill="#cfe2ff" opacity="0.7"/>
<ellipse cx="30" cy="128" rx="1.2" ry="2.5" fill="#cfe2ff" opacity="0.35"/>
<ellipse cx="45" cy="167" rx="1.8" ry="1.4" fill="#cfe2ff" opacity="0.5"/>
<ellipse cx="40" cy="132" rx="1.5" ry="1.2" fill="#cfe2ff" opacity="0.5"/>
<ellipse cx="23" cy="150" rx="1.4" ry="3" fill="#cfe2ff" opacity="0.3"/>
<path d="M52,97 L97,133 L95,138 L50,104 Z" fill="#56759f" fill-opacity="0.42"/>
<line x1="51.2" y1="92.6" x2="119.7" y2="29.8" stroke="#000" stroke-width="1.4"/>
<line x1="114" y1="35.3" x2="287.8" y2="142.2" stroke="#000" stroke-width="1.4"/><path d="M287.8,142.2 L281.8,142.03 L284.99,140.47 L284.95,136.92 Z" fill="#000" stroke="#000" stroke-width="0.6" stroke-linejoin="miter"/><path d="M114,35.3 L120,35.47 L116.81,37.03 L116.85,40.58 Z" fill="#000" stroke="#000" stroke-width="0.6" stroke-linejoin="miter"/>
<line x1="291.2" y1="139.5" x2="226.5" y2="200" stroke="#000" stroke-width="1.4"/>
<line x1="84.5" y1="129.1" x2="147.7" y2="71.6" stroke="#000" stroke-width="1.4"/><path d="M147.7,71.6 L145.88,77.32 L145.26,73.82 L141.84,72.88 Z" fill="#000" stroke="#000" stroke-width="0.6" stroke-linejoin="miter"/><path d="M84.5,129.1 L86.32,123.38 L86.94,126.88 L90.36,127.82 Z" fill="#000" stroke="#000" stroke-width="0.6" stroke-linejoin="miter"/>
<line x1="148.1" y1="66" x2="151.4" y2="94.6" stroke="#000" stroke-width="1.4"/>
<line x1="83.2" y1="125.2" x2="87.2" y2="159.8" stroke="#000" stroke-width="1.4"/>
<line x1="108.6" y1="163.8" x2="144.6" y2="131.1" stroke="#000" stroke-width="1.4"/>
<line x1="115.4" y1="161" x2="121.1" y2="212" stroke="#000" stroke-width="1.4"/><path d="M121.1,212 L117.54,207.17 L120.73,208.72 L123.5,206.5 Z" fill="#000" stroke="#000" stroke-width="0.6" stroke-linejoin="miter"/><path d="M115.4,161 L118.96,165.83 L115.77,164.28 L113,166.5 Z" fill="#000" stroke="#000" stroke-width="0.6" stroke-linejoin="miter"/>
<line x1="116.8" y1="216.8" x2="129" y2="205.4" stroke="#000" stroke-width="1.4"/>
<text transform="translate(158.2,56.4) rotate(31.3)" font-size="14" fill="#000" style="font-family:&quot;Liberation Serif&quot;,serif">Horizontal propagation</text>
<text transform="translate(95.9,111.6) rotate(-40.7)" font-size="13" fill="#000" style="font-family:&quot;Liberation Serif&quot;,serif">Lateral</text>
<text transform="translate(116.5,214) rotate(-96.4)" font-size="13.5" fill="#000" style="font-family:&quot;Liberation Serif&quot;,serif">Vertical</text>
<line x1="409.75" y1="3.2" x2="409.75" y2="187.5" stroke="#d6d6d6" stroke-width="1"/>
<line x1="453.22" y1="3.2" x2="453.22" y2="187.5" stroke="#d6d6d6" stroke-width="1"/>
<line x1="496.69" y1="3.2" x2="496.69" y2="187.5" stroke="#d6d6d6" stroke-width="1"/>
<line x1="540.16" y1="3.2" x2="540.16" y2="187.5" stroke="#d6d6d6" stroke-width="1"/>
<line x1="583.63" y1="3.2" x2="583.63" y2="187.5" stroke="#d6d6d6" stroke-width="1"/>
<line x1="627.1" y1="3.2" x2="627.1" y2="187.5" stroke="#d6d6d6" stroke-width="1"/>
<line x1="670.57" y1="3.2" x2="670.57" y2="187.5" stroke="#d6d6d6" stroke-width="1"/>
<line x1="399.3" y1="187.92" x2="684.1" y2="187.92" stroke="#d6d6d6" stroke-width="1"/>
<line x1="399.3" y1="166.16" x2="684.1" y2="166.16" stroke="#d6d6d6" stroke-width="1"/>
<line x1="399.3" y1="144.4" x2="684.1" y2="144.4" stroke="#d6d6d6" stroke-width="1"/>
<line x1="399.3" y1="122.65" x2="684.1" y2="122.65" stroke="#d6d6d6" stroke-width="1"/>
<line x1="399.3" y1="100.89" x2="684.1" y2="100.89" stroke="#d6d6d6" stroke-width="1"/>
<line x1="399.3" y1="79.13" x2="684.1" y2="79.13" stroke="#d6d6d6" stroke-width="1"/>
<line x1="399.3" y1="57.37" x2="684.1" y2="57.37" stroke="#d6d6d6" stroke-width="1"/>
<line x1="399.3" y1="35.62" x2="684.1" y2="35.62" stroke="#d6d6d6" stroke-width="1"/>
<line x1="399.3" y1="13.86" x2="684.1" y2="13.86" stroke="#d6d6d6" stroke-width="1"/>
<rect x="399.3" y="3.2" width="284.8" height="184.3" fill="none" stroke="#cfcfcf" stroke-width="1.2"/>
<g clip-path="url(#clipB)">
<path d="M411.92,150.5 L431.49,77.25 L453.22,76.17 L474.96,26.98 L496.69,14.41 L518.42,14.41 L540.16,14.41 L561.89,14.41 L583.63,14.41 L605.37,14.41 L627.1,14.41 L648.84,14.41 L670.57,14.41" fill="none" stroke="#472d7b" stroke-width="2.4" stroke-linejoin="round"/>
<circle cx="411.92" cy="150.5" r="3.1" fill="#fff" stroke="#472d7b" stroke-width="2.2"/>
<circle cx="431.49" cy="77.25" r="3.1" fill="#fff" stroke="#472d7b" stroke-width="2.2"/>
<circle cx="453.22" cy="76.17" r="3.1" fill="#fff" stroke="#472d7b" stroke-width="2.2"/>
<circle cx="474.96" cy="26.98" r="3.1" fill="#fff" stroke="#472d7b" stroke-width="2.2"/>
<circle cx="496.69" cy="14.41" r="3.1" fill="#fff" stroke="#472d7b" stroke-width="2.2"/>
<circle cx="518.42" cy="14.41" r="3.1" fill="#fff" stroke="#472d7b" stroke-width="2.2"/>
<circle cx="540.16" cy="14.41" r="3.1" fill="#fff" stroke="#472d7b" stroke-width="2.2"/>
<circle cx="561.89" cy="14.41" r="3.1" fill="#fff" stroke="#472d7b" stroke-width="2.2"/>
<circle cx="583.63" cy="14.41" r="3.1" fill="#fff" stroke="#472d7b" stroke-width="2.2"/>
<circle cx="605.37" cy="14.41" r="3.1" fill="#fff" stroke="#472d7b" stroke-width="2.2"/>
<circle cx="627.1" cy="14.41" r="3.1" fill="#fff" stroke="#472d7b" stroke-width="2.2"/>
<circle cx="648.84" cy="14.41" r="3.1" fill="#fff" stroke="#472d7b" stroke-width="2.2"/>
<circle cx="670.57" cy="14.41" r="3.1" fill="#fff" stroke="#472d7b" stroke-width="2.2"/>
<path d="M411.92,139.23 L431.49,133.59 L453.22,122.76 L474.96,125.79 L496.69,117.99 L518.42,96.32 L540.16,70.97 L561.89,49.08 L583.63,28.5 L605.37,17.23 L627.1,15.06 L648.84,15.06 L670.57,15.06" fill="none" stroke="#3b528b" stroke-width="2.4" stroke-linejoin="round" stroke-dasharray="2.5 4.1" stroke-linecap="butt"/>
<polygon points="411.92,135.23 415.92,139.23 411.92,143.23 407.92,139.23" fill="#fff" stroke="#3b528b" stroke-width="2.4" stroke-linejoin="miter"/>
<polygon points="431.49,129.59 435.49,133.59 431.49,137.59 427.49,133.59" fill="#fff" stroke="#3b528b" stroke-width="2.4" stroke-linejoin="miter"/>
<polygon points="453.22,118.76 457.22,122.76 453.22,126.76 449.22,122.76" fill="#fff" stroke="#3b528b" stroke-width="2.4" stroke-linejoin="miter"/>
<polygon points="474.96,121.79 478.96,125.79 474.96,129.79 470.96,125.79" fill="#fff" stroke="#3b528b" stroke-width="2.4" stroke-linejoin="miter"/>
<polygon points="496.69,113.99 500.69,117.99 496.69,121.99 492.69,117.99" fill="#fff" stroke="#3b528b" stroke-width="2.4" stroke-linejoin="miter"/>
<polygon points="518.42,92.32 522.42,96.32 518.42,100.32 514.42,96.32" fill="#fff" stroke="#3b528b" stroke-width="2.4" stroke-linejoin="miter"/>
<polygon points="540.16,66.97 544.16,70.97 540.16,74.97 536.16,70.97" fill="#fff" stroke="#3b528b" stroke-width="2.4" stroke-linejoin="miter"/>
<polygon points="561.89,45.08 565.89,49.08 561.89,53.08 557.89,49.08" fill="#fff" stroke="#3b528b" stroke-width="2.4" stroke-linejoin="miter"/>
<polygon points="583.63,24.5 587.63,28.5 583.63,32.5 579.63,28.5" fill="#fff" stroke="#3b528b" stroke-width="2.4" stroke-linejoin="miter"/>
<polygon points="605.37,13.23 609.37,17.23 605.37,21.23 601.37,17.23" fill="#fff" stroke="#3b528b" stroke-width="2.4" stroke-linejoin="miter"/>
<polygon points="627.1,11.06 631.1,15.06 627.1,19.06 623.1,15.06" fill="#fff" stroke="#3b528b" stroke-width="2.4" stroke-linejoin="miter"/>
<polygon points="648.84,11.06 652.84,15.06 648.84,19.06 644.84,15.06" fill="#fff" stroke="#3b528b" stroke-width="2.4" stroke-linejoin="miter"/>
<polygon points="670.57,11.06 674.57,15.06 670.57,19.06 666.57,15.06" fill="#fff" stroke="#3b528b" stroke-width="2.4" stroke-linejoin="miter"/>
<path d="M411.92,146.6 L431.49,80.07 L453.22,52.55 L474.96,44.31 L496.69,45.83 L518.42,95.67 L540.16,96.32 L561.89,97.62 L583.63,98.92 L605.37,101.09 L627.1,104.34 L648.84,106.94 L670.57,139.01" fill="none" stroke="#2c728e" stroke-width="2.4" stroke-linejoin="round"/>
<polygon points="411.92,150 415.02,143.4 408.82,143.4" fill="#fff" stroke="#2c728e" stroke-width="2.5" stroke-linejoin="miter"/>
<polygon points="431.49,83.47 434.59,76.87 428.38,76.87" fill="#fff" stroke="#2c728e" stroke-width="2.5" stroke-linejoin="miter"/>
<polygon points="453.22,55.95 456.32,49.35 450.12,49.35" fill="#fff" stroke="#2c728e" stroke-width="2.5" stroke-linejoin="miter"/>
<polygon points="474.96,47.71 478.06,41.11 471.86,41.11" fill="#fff" stroke="#2c728e" stroke-width="2.5" stroke-linejoin="miter"/>
<polygon points="496.69,49.23 499.79,42.63 493.59,42.63" fill="#fff" stroke="#2c728e" stroke-width="2.5" stroke-linejoin="miter"/>
<polygon points="518.42,99.07 521.52,92.47 515.32,92.47" fill="#fff" stroke="#2c728e" stroke-width="2.5" stroke-linejoin="miter"/>
<polygon points="540.16,99.72 543.26,93.12 537.06,93.12" fill="#fff" stroke="#2c728e" stroke-width="2.5" stroke-linejoin="miter"/>
<polygon points="561.89,101.02 565,94.42 558.79,94.42" fill="#fff" stroke="#2c728e" stroke-width="2.5" stroke-linejoin="miter"/>
<polygon points="583.63,102.32 586.73,95.72 580.53,95.72" fill="#fff" stroke="#2c728e" stroke-width="2.5" stroke-linejoin="miter"/>
<polygon points="605.37,104.49 608.47,97.89 602.26,97.89" fill="#fff" stroke="#2c728e" stroke-width="2.5" stroke-linejoin="miter"/>
<polygon points="627.1,107.74 630.2,101.14 624,101.14" fill="#fff" stroke="#2c728e" stroke-width="2.5" stroke-linejoin="miter"/>
<polygon points="648.84,110.34 651.94,103.74 645.74,103.74" fill="#fff" stroke="#2c728e" stroke-width="2.5" stroke-linejoin="miter"/>
<polygon points="670.57,142.41 673.67,135.81 667.47,135.81" fill="#fff" stroke="#2c728e" stroke-width="2.5" stroke-linejoin="miter"/>
<path d="M411.92,147.25 L431.49,96.76 L453.22,45.83 L474.96,15.49 L496.69,14.41 L518.42,14.41 L540.16,14.41 L561.89,14.41 L583.63,14.41 L605.37,14.41 L627.1,14.41 L648.84,14.41 L670.57,14.41" fill="none" stroke="#21918c" stroke-width="2.4" stroke-linejoin="round"/>
<polygon points="411.92,143.85 408.82,150.45 415.02,150.45" fill="#fff" stroke="#21918c" stroke-width="2.5" stroke-linejoin="miter"/>
<polygon points="431.49,93.36 428.38,99.96 434.59,99.96" fill="#fff" stroke="#21918c" stroke-width="2.5" stroke-linejoin="miter"/>
<polygon points="453.22,42.43 450.12,49.03 456.32,49.03" fill="#fff" stroke="#21918c" stroke-width="2.5" stroke-linejoin="miter"/>
<polygon points="474.96,12.09 471.86,18.69 478.06,18.69" fill="#fff" stroke="#21918c" stroke-width="2.5" stroke-linejoin="miter"/>
<polygon points="496.69,11.01 493.59,17.61 499.79,17.61" fill="#fff" stroke="#21918c" stroke-width="2.5" stroke-linejoin="miter"/>
<polygon points="518.42,11.01 515.32,17.61 521.52,17.61" fill="#fff" stroke="#21918c" stroke-width="2.5" stroke-linejoin="miter"/>
<polygon points="540.16,11.01 537.06,17.61 543.26,17.61" fill="#fff" stroke="#21918c" stroke-width="2.5" stroke-linejoin="miter"/>
<polygon points="561.89,11.01 558.79,17.61 565,17.61" fill="#fff" stroke="#21918c" stroke-width="2.5" stroke-linejoin="miter"/>
<polygon points="583.63,11.01 580.53,17.61 586.73,17.61" fill="#fff" stroke="#21918c" stroke-width="2.5" stroke-linejoin="miter"/>
<polygon points="605.37,11.01 602.26,17.61 608.47,17.61" fill="#fff" stroke="#21918c" stroke-width="2.5" stroke-linejoin="miter"/>
<polygon points="627.1,11.01 624,17.61 630.2,17.61" fill="#fff" stroke="#21918c" stroke-width="2.5" stroke-linejoin="miter"/>
<polygon points="648.84,11.01 645.74,17.61 651.94,17.61" fill="#fff" stroke="#21918c" stroke-width="2.5" stroke-linejoin="miter"/>
<polygon points="670.57,11.01 667.47,17.61 673.67,17.61" fill="#fff" stroke="#21918c" stroke-width="2.5" stroke-linejoin="miter"/>
<path d="M411.92,144.43 L431.49,123.63 L453.22,115.18 L474.96,105.86 L496.69,107.59 L518.42,108.02 L540.16,111.49 L561.89,114.09 L583.63,117.99 L605.37,121.03 L627.1,134.03 L648.84,147.46 L670.57,150.5" fill="none" stroke="#28ae80" stroke-width="2.4" stroke-linejoin="round" stroke-dasharray="2.5 4.1" stroke-linecap="butt"/>
<polygon points="408.52,144.43 415.12,147.53 415.12,141.33" fill="#fff" stroke="#28ae80" stroke-width="2.5" stroke-linejoin="miter"/>
<polygon points="428.09,123.63 434.69,126.73 434.69,120.53" fill="#fff" stroke="#28ae80" stroke-width="2.5" stroke-linejoin="miter"/>
<polygon points="449.82,115.18 456.42,118.28 456.42,112.08" fill="#fff" stroke="#28ae80" stroke-width="2.5" stroke-linejoin="miter"/>
<polygon points="471.56,105.86 478.16,108.96 478.16,102.76" fill="#fff" stroke="#28ae80" stroke-width="2.5" stroke-linejoin="miter"/>
<polygon points="493.29,107.59 499.89,110.69 499.89,104.49" fill="#fff" stroke="#28ae80" stroke-width="2.5" stroke-linejoin="miter"/>
<polygon points="515.02,108.02 521.62,111.12 521.62,104.92" fill="#fff" stroke="#28ae80" stroke-width="2.5" stroke-linejoin="miter"/>
<polygon points="536.76,111.49 543.36,114.59 543.36,108.39" fill="#fff" stroke="#28ae80" stroke-width="2.5" stroke-linejoin="miter"/>
<polygon points="558.5,114.09 565.1,117.19 565.1,110.99" fill="#fff" stroke="#28ae80" stroke-width="2.5" stroke-linejoin="miter"/>
<polygon points="580.23,117.99 586.83,121.09 586.83,114.89" fill="#fff" stroke="#28ae80" stroke-width="2.5" stroke-linejoin="miter"/>
<polygon points="601.97,121.03 608.57,124.13 608.57,117.93" fill="#fff" stroke="#28ae80" stroke-width="2.5" stroke-linejoin="miter"/>
<polygon points="623.7,134.03 630.3,137.13 630.3,130.93" fill="#fff" stroke="#28ae80" stroke-width="2.5" stroke-linejoin="miter"/>
<polygon points="645.44,147.46 652.04,150.56 652.04,144.36" fill="#fff" stroke="#28ae80" stroke-width="2.5" stroke-linejoin="miter"/>
<polygon points="667.17,150.5 673.77,153.6 673.77,147.4" fill="#fff" stroke="#28ae80" stroke-width="2.5" stroke-linejoin="miter"/>
<path d="M411.92,144.43 L431.49,99.57 L453.22,99.14 L474.96,109.32 L496.69,123.63 L518.42,125.58 L540.16,128.39 L561.89,130.13 L583.63,124.93 L605.37,134.9 L627.1,135.55 L648.84,136.41 L670.57,143.35" fill="none" stroke="#5ec962" stroke-width="2.4" stroke-linejoin="round"/>
<polygon points="415.32,144.43 408.72,141.33 408.72,147.53" fill="#fff" stroke="#5ec962" stroke-width="2.5" stroke-linejoin="miter"/>
<polygon points="434.88,99.57 428.29,96.47 428.29,102.67" fill="#fff" stroke="#5ec962" stroke-width="2.5" stroke-linejoin="miter"/>
<polygon points="456.62,99.14 450.02,96.04 450.02,102.24" fill="#fff" stroke="#5ec962" stroke-width="2.5" stroke-linejoin="miter"/>
<polygon points="478.36,109.32 471.76,106.22 471.76,112.42" fill="#fff" stroke="#5ec962" stroke-width="2.5" stroke-linejoin="miter"/>
<polygon points="500.09,123.63 493.49,120.53 493.49,126.73" fill="#fff" stroke="#5ec962" stroke-width="2.5" stroke-linejoin="miter"/>
<polygon points="521.82,125.58 515.22,122.48 515.22,128.68" fill="#fff" stroke="#5ec962" stroke-width="2.5" stroke-linejoin="miter"/>
<polygon points="543.56,128.39 536.96,125.29 536.96,131.49" fill="#fff" stroke="#5ec962" stroke-width="2.5" stroke-linejoin="miter"/>
<polygon points="565.29,130.13 558.69,127.03 558.69,133.23" fill="#fff" stroke="#5ec962" stroke-width="2.5" stroke-linejoin="miter"/>
<polygon points="587.03,124.93 580.43,121.83 580.43,128.03" fill="#fff" stroke="#5ec962" stroke-width="2.5" stroke-linejoin="miter"/>
<polygon points="608.76,134.9 602.16,131.8 602.16,138" fill="#fff" stroke="#5ec962" stroke-width="2.5" stroke-linejoin="miter"/>
<polygon points="630.5,135.55 623.9,132.45 623.9,138.65" fill="#fff" stroke="#5ec962" stroke-width="2.5" stroke-linejoin="miter"/>
<polygon points="652.24,136.41 645.63,133.31 645.63,139.51" fill="#fff" stroke="#5ec962" stroke-width="2.5" stroke-linejoin="miter"/>
<polygon points="673.97,143.35 667.37,140.25 667.37,146.45" fill="#fff" stroke="#5ec962" stroke-width="2.5" stroke-linejoin="miter"/>
<path d="M411.92,137.28 L431.49,115.18 L453.22,114.96 L474.96,113.88 L496.69,105.64 L518.42,80.94 L540.16,55.58 L561.89,33.7 L583.63,21.56 L605.37,16.36 L627.1,15.49 L648.84,15.49 L670.57,15.49" fill="none" stroke="#addc30" stroke-width="2.4" stroke-linejoin="round" stroke-dasharray="2.5 4.1" stroke-linecap="butt"/>
<polygon points="409.12,134.48 414.72,134.48 414.72,140.08 409.12,140.08" fill="#fff" stroke="#addc30" stroke-width="2.7" stroke-linejoin="miter"/>
<polygon points="428.69,112.38 434.29,112.38 434.29,117.98 428.69,117.98" fill="#fff" stroke="#addc30" stroke-width="2.7" stroke-linejoin="miter"/>
<polygon points="450.42,112.16 456.02,112.16 456.02,117.76 450.42,117.76" fill="#fff" stroke="#addc30" stroke-width="2.7" stroke-linejoin="miter"/>
<polygon points="472.16,111.08 477.76,111.08 477.76,116.68 472.16,116.68" fill="#fff" stroke="#addc30" stroke-width="2.7" stroke-linejoin="miter"/>
<polygon points="493.89,102.84 499.49,102.84 499.49,108.44 493.89,108.44" fill="#fff" stroke="#addc30" stroke-width="2.7" stroke-linejoin="miter"/>
<polygon points="515.62,78.14 521.22,78.14 521.22,83.74 515.62,83.74" fill="#fff" stroke="#addc30" stroke-width="2.7" stroke-linejoin="miter"/>
<polygon points="537.36,52.78 542.96,52.78 542.96,58.38 537.36,58.38" fill="#fff" stroke="#addc30" stroke-width="2.7" stroke-linejoin="miter"/>
<polygon points="559.1,30.9 564.69,30.9 564.69,36.5 559.1,36.5" fill="#fff" stroke="#addc30" stroke-width="2.7" stroke-linejoin="miter"/>
<polygon points="580.83,18.76 586.43,18.76 586.43,24.36 580.83,24.36" fill="#fff" stroke="#addc30" stroke-width="2.7" stroke-linejoin="miter"/>
<polygon points="602.57,13.56 608.16,13.56 608.16,19.16 602.57,19.16" fill="#fff" stroke="#addc30" stroke-width="2.7" stroke-linejoin="miter"/>
<polygon points="624.3,12.69 629.9,12.69 629.9,18.29 624.3,18.29" fill="#fff" stroke="#addc30" stroke-width="2.7" stroke-linejoin="miter"/>
<polygon points="646.04,12.69 651.63,12.69 651.63,18.29 646.04,18.29" fill="#fff" stroke="#addc30" stroke-width="2.7" stroke-linejoin="miter"/>
<polygon points="667.77,12.69 673.37,12.69 673.37,18.29 667.77,18.29" fill="#fff" stroke="#addc30" stroke-width="2.7" stroke-linejoin="miter"/>
<path d="M411.92,127.74 L431.49,113.44 L453.22,104.77 L474.96,111.27 L496.69,110.84 L518.42,114.09 L540.16,119.51 L561.89,125.58 L583.63,132.94 L605.37,135.98 L627.1,144 L648.84,140.1 L670.57,148.98" fill="none" stroke="#fde725" stroke-width="2.4" stroke-linejoin="round" stroke-dasharray="2.5 4.1" stroke-linecap="butt"/>
<polygon points="416.17,129.5 413.68,131.99 410.16,131.99 407.67,129.5 407.67,125.98 410.16,123.49 413.68,123.49 416.17,125.98" fill="#fde725"/>
<polygon points="435.73,115.2 433.25,117.69 429.72,117.69 427.24,115.2 427.24,111.68 429.72,109.19 433.25,109.19 435.73,111.68" fill="#fde725"/>
<polygon points="457.47,106.53 454.98,109.02 451.46,109.02 448.97,106.53 448.97,103.01 451.46,100.52 454.98,100.52 457.47,103.01" fill="#fde725"/>
<polygon points="479.2,113.04 476.72,115.52 473.19,115.52 470.71,113.04 470.71,109.51 473.19,107.03 476.72,107.03 479.2,109.51" fill="#fde725"/>
<polygon points="500.94,112.6 498.45,115.09 494.93,115.09 492.44,112.6 492.44,109.08 494.93,106.59 498.45,106.59 500.94,109.08" fill="#fde725"/>
<polygon points="522.67,115.85 520.19,118.34 516.66,118.34 514.18,115.85 514.18,112.33 516.66,109.84 520.19,109.84 522.67,112.33" fill="#fde725"/>
<polygon points="544.41,121.27 541.92,123.76 538.4,123.76 535.91,121.27 535.91,117.75 538.4,115.26 541.92,115.26 544.41,117.75" fill="#fde725"/>
<polygon points="566.14,127.34 563.66,129.83 560.13,129.83 557.65,127.34 557.65,123.82 560.13,121.33 563.66,121.33 566.14,123.82" fill="#fde725"/>
<polygon points="587.88,134.71 585.39,137.19 581.87,137.19 579.38,134.71 579.38,131.18 581.87,128.7 585.39,128.7 587.88,131.18" fill="#fde725"/>
<polygon points="609.61,137.74 607.13,140.23 603.6,140.23 601.12,137.74 601.12,134.22 603.6,131.73 607.13,131.73 609.61,134.22" fill="#fde725"/>
<polygon points="631.35,145.76 628.86,148.25 625.34,148.25 622.85,145.76 622.85,142.24 625.34,139.75 628.86,139.75 631.35,142.24" fill="#fde725"/>
<polygon points="653.08,141.86 650.6,144.35 647.07,144.35 644.59,141.86 644.59,138.34 647.07,135.85 650.6,135.85 653.08,138.34" fill="#fde725"/>
<polygon points="674.82,150.74 672.33,153.23 668.81,153.23 666.32,150.74 666.32,147.22 668.81,144.73 672.33,144.73 674.82,147.22" fill="#fde725"/>
</g>
<text x="409.75" y="201.8" text-anchor="middle" font-size="13.6" fill="#262626" style="font-family:&quot;Liberation Serif&quot;,serif">0</text>
<text x="453.22" y="201.8" text-anchor="middle" font-size="13.6" fill="#262626" style="font-family:&quot;Liberation Serif&quot;,serif">10</text>
<text x="496.69" y="201.8" text-anchor="middle" font-size="13.6" fill="#262626" style="font-family:&quot;Liberation Serif&quot;,serif">20</text>
<text x="540.16" y="201.8" text-anchor="middle" font-size="13.6" fill="#262626" style="font-family:&quot;Liberation Serif&quot;,serif">30</text>
<text x="583.63" y="201.8" text-anchor="middle" font-size="13.6" fill="#262626" style="font-family:&quot;Liberation Serif&quot;,serif">40</text>
<text x="627.1" y="201.8" text-anchor="middle" font-size="13.6" fill="#262626" style="font-family:&quot;Liberation Serif&quot;,serif">50</text>
<text x="670.57" y="201.8" text-anchor="middle" font-size="13.6" fill="#262626" style="font-family:&quot;Liberation Serif&quot;,serif">60</text>
<text x="396.1" y="194.02" text-anchor="end" font-size="13.6" fill="#262626" style="font-family:&quot;Liberation Serif&quot;,serif">−1</text>
<text x="396.1" y="172.26" text-anchor="end" font-size="13.6" fill="#262626" style="font-family:&quot;Liberation Serif&quot;,serif">0</text>
<text x="396.1" y="150.5" text-anchor="end" font-size="13.6" fill="#262626" style="font-family:&quot;Liberation Serif&quot;,serif">1</text>
<text x="396.1" y="128.75" text-anchor="end" font-size="13.6" fill="#262626" style="font-family:&quot;Liberation Serif&quot;,serif">2</text>
<text x="396.1" y="106.99" text-anchor="end" font-size="13.6" fill="#262626" style="font-family:&quot;Liberation Serif&quot;,serif">3</text>
<text x="396.1" y="85.23" text-anchor="end" font-size="13.6" fill="#262626" style="font-family:&quot;Liberation Serif&quot;,serif">4</text>
<text x="396.1" y="63.47" text-anchor="end" font-size="13.6" fill="#262626" style="font-family:&quot;Liberation Serif&quot;,serif">5</text>
<text x="396.1" y="41.72" text-anchor="end" font-size="13.6" fill="#262626" style="font-family:&quot;Liberation Serif&quot;,serif">6</text>
<text x="396.1" y="19.96" text-anchor="end" font-size="13.6" fill="#262626" style="font-family:&quot;Liberation Serif&quot;,serif">7</text>
<text x="541.4" y="218.9" text-anchor="middle" font-size="15.4" fill="#262626" style="font-family:&quot;Liberation Serif&quot;,serif">Time / s</text>
<text transform="translate(373,97.4) rotate(-90)" x="0" y="0" text-anchor="middle" font-size="15.4" fill="#262626" style="font-family:&quot;Liberation Serif&quot;,serif">Range on Lateral Direction / m</text>
<rect x="436" y="142.5" width="130.8" height="45" rx="3" fill="#707070" opacity="0.6"/>
<rect x="434.5" y="141" width="130.8" height="45" rx="3" fill="#fff" fill-opacity="0.93" stroke="#d0d0d0" stroke-width="1"/>
<path d="M434.7,146.2 L457.1,146.2" fill="none" stroke="#472d7b" stroke-width="2.4" stroke-linejoin="round"/>
<circle cx="445.9" cy="146.2" r="3.1" fill="#fff" stroke="#472d7b" stroke-width="2.2"/>
<text x="464" y="149.8" font-size="10" fill="#262626" style="font-family:&quot;Liberation Serif&quot;,serif">Case1</text>
<path d="M434.7,156.8 L457.1,156.8" fill="none" stroke="#3b528b" stroke-width="2.4" stroke-linejoin="round" stroke-dasharray="2.5 4.1" stroke-linecap="butt"/>
<polygon points="445.9,152.8 449.9,156.8 445.9,160.8 441.9,156.8" fill="#fff" stroke="#3b528b" stroke-width="2.4" stroke-linejoin="miter"/>
<text x="464" y="160.4" font-size="10" fill="#262626" style="font-family:&quot;Liberation Serif&quot;,serif">Case2</text>
<path d="M434.7,167.4 L457.1,167.4" fill="none" stroke="#2c728e" stroke-width="2.4" stroke-linejoin="round"/>
<polygon points="445.9,170.8 449,164.2 442.8,164.2" fill="#fff" stroke="#2c728e" stroke-width="2.5" stroke-linejoin="miter"/>
<text x="464" y="171" font-size="10" fill="#262626" style="font-family:&quot;Liberation Serif&quot;,serif">Case3</text>
<path d="M434.7,178 L457.1,178" fill="none" stroke="#21918c" stroke-width="2.4" stroke-linejoin="round"/>
<polygon points="445.9,174.6 442.8,181.2 449,181.2" fill="#fff" stroke="#21918c" stroke-width="2.5" stroke-linejoin="miter"/>
<text x="464" y="181.6" font-size="10" fill="#262626" style="font-family:&quot;Liberation Serif&quot;,serif">Case4</text>
<path d="M509,146.2 L531.4,146.2" fill="none" stroke="#28ae80" stroke-width="2.4" stroke-linejoin="round" stroke-dasharray="2.5 4.1" stroke-linecap="butt"/>
<polygon points="516.8,146.2 523.4,149.3 523.4,143.1" fill="#fff" stroke="#28ae80" stroke-width="2.5" stroke-linejoin="miter"/>
<text x="538.3" y="149.8" font-size="10" fill="#262626" style="font-family:&quot;Liberation Serif&quot;,serif">Case5</text>
<path d="M509,156.8 L531.4,156.8" fill="none" stroke="#5ec962" stroke-width="2.4" stroke-linejoin="round"/>
<polygon points="523.6,156.8 517,153.7 517,159.9" fill="#fff" stroke="#5ec962" stroke-width="2.5" stroke-linejoin="miter"/>
<text x="538.3" y="160.4" font-size="10" fill="#262626" style="font-family:&quot;Liberation Serif&quot;,serif">Case6</text>
<path d="M509,167.4 L531.4,167.4" fill="none" stroke="#addc30" stroke-width="2.4" stroke-linejoin="round" stroke-dasharray="2.5 4.1" stroke-linecap="butt"/>
<polygon points="517.4,164.6 523,164.6 523,170.2 517.4,170.2" fill="#fff" stroke="#addc30" stroke-width="2.7" stroke-linejoin="miter"/>
<text x="538.3" y="171" font-size="10" fill="#262626" style="font-family:&quot;Liberation Serif&quot;,serif">Case7</text>
<path d="M509,178 L531.4,178" fill="none" stroke="#fde725" stroke-width="2.4" stroke-linejoin="round" stroke-dasharray="2.5 4.1" stroke-linecap="butt"/>
<polygon points="524.45,179.76 521.96,182.25 518.44,182.25 515.95,179.76 515.95,176.24 518.44,173.75 521.96,173.75 524.45,176.24" fill="#fde725"/>
<text x="538.3" y="181.6" font-size="10" fill="#262626" style="font-family:&quot;Liberation Serif&quot;,serif">Case8</text>
<line x1="51.2" y1="277.4" x2="51.2" y2="460.8" stroke="#d6d6d6" stroke-width="1"/>
<line x1="94.75" y1="277.4" x2="94.75" y2="460.8" stroke="#d6d6d6" stroke-width="1"/>
<line x1="138.3" y1="277.4" x2="138.3" y2="460.8" stroke="#d6d6d6" stroke-width="1"/>
<line x1="181.85" y1="277.4" x2="181.85" y2="460.8" stroke="#d6d6d6" stroke-width="1"/>
<line x1="225.4" y1="277.4" x2="225.4" y2="460.8" stroke="#d6d6d6" stroke-width="1"/>
<line x1="268.95" y1="277.4" x2="268.95" y2="460.8" stroke="#d6d6d6" stroke-width="1"/>
<line x1="312.5" y1="277.4" x2="312.5" y2="460.8" stroke="#d6d6d6" stroke-width="1"/>
<line x1="40.8" y1="450.36" x2="325.8" y2="450.36" stroke="#d6d6d6" stroke-width="1"/>
<line x1="40.8" y1="427.3" x2="325.8" y2="427.3" stroke="#d6d6d6" stroke-width="1"/>
<line x1="40.8" y1="404.24" x2="325.8" y2="404.24" stroke="#d6d6d6" stroke-width="1"/>
<line x1="40.8" y1="381.18" x2="325.8" y2="381.18" stroke="#d6d6d6" stroke-width="1"/>
<line x1="40.8" y1="358.11" x2="325.8" y2="358.11" stroke="#d6d6d6" stroke-width="1"/>
<line x1="40.8" y1="335.05" x2="325.8" y2="335.05" stroke="#d6d6d6" stroke-width="1"/>
<line x1="40.8" y1="311.99" x2="325.8" y2="311.99" stroke="#d6d6d6" stroke-width="1"/>
<line x1="40.8" y1="288.93" x2="325.8" y2="288.93" stroke="#d6d6d6" stroke-width="1"/>
<rect x="40.8" y="277.4" width="285" height="183.4" fill="none" stroke="#cfcfcf" stroke-width="1.2"/>
<g clip-path="url(#clipC)">
<path d="M53.38,408.92 L72.98,368.15 L94.75,356.48 L116.53,322.53 L138.3,296.88 L160.08,287.99 L181.85,287.99 L203.62,287.99 L225.4,287.99 L247.18,287.99 L268.95,287.99 L290.73,287.99 L312.5,287.99" fill="none" stroke="#472d7b" stroke-width="2.4" stroke-linejoin="round"/>
<circle cx="53.38" cy="408.92" r="3.1" fill="#fff" stroke="#472d7b" stroke-width="2.2"/>
<circle cx="72.98" cy="368.15" r="3.1" fill="#fff" stroke="#472d7b" stroke-width="2.2"/>
<circle cx="94.75" cy="356.48" r="3.1" fill="#fff" stroke="#472d7b" stroke-width="2.2"/>
<circle cx="116.53" cy="322.53" r="3.1" fill="#fff" stroke="#472d7b" stroke-width="2.2"/>
<circle cx="138.3" cy="296.88" r="3.1" fill="#fff" stroke="#472d7b" stroke-width="2.2"/>
<circle cx="160.08" cy="287.99" r="3.1" fill="#fff" stroke="#472d7b" stroke-width="2.2"/>
<circle cx="181.85" cy="287.99" r="3.1" fill="#fff" stroke="#472d7b" stroke-width="2.2"/>
<circle cx="203.62" cy="287.99" r="3.1" fill="#fff" stroke="#472d7b" stroke-width="2.2"/>
<circle cx="225.4" cy="287.99" r="3.1" fill="#fff" stroke="#472d7b" stroke-width="2.2"/>
<circle cx="247.18" cy="287.99" r="3.1" fill="#fff" stroke="#472d7b" stroke-width="2.2"/>
<circle cx="268.95" cy="287.99" r="3.1" fill="#fff" stroke="#472d7b" stroke-width="2.2"/>
<circle cx="290.73" cy="287.99" r="3.1" fill="#fff" stroke="#472d7b" stroke-width="2.2"/>
<circle cx="312.5" cy="287.99" r="3.1" fill="#fff" stroke="#472d7b" stroke-width="2.2"/>
<path d="M53.38,417.58 L72.98,398.52 L94.75,391.59 L116.53,388.01 L138.3,381.2 L160.08,368.73 L181.85,360.76 L203.62,348.63 L225.4,347.7 L247.18,342.05 L268.95,330.96 L290.73,323.1 L312.5,318.48" fill="none" stroke="#3b528b" stroke-width="2.4" stroke-linejoin="round" stroke-dasharray="2.5 4.1" stroke-linecap="butt"/>
<polygon points="53.38,413.58 57.38,417.58 53.38,421.58 49.38,417.58" fill="#fff" stroke="#3b528b" stroke-width="2.4" stroke-linejoin="miter"/>
<polygon points="72.98,394.52 76.98,398.52 72.98,402.52 68.98,398.52" fill="#fff" stroke="#3b528b" stroke-width="2.4" stroke-linejoin="miter"/>
<polygon points="94.75,387.59 98.75,391.59 94.75,395.59 90.75,391.59" fill="#fff" stroke="#3b528b" stroke-width="2.4" stroke-linejoin="miter"/>
<polygon points="116.53,384.01 120.53,388.01 116.53,392.01 112.53,388.01" fill="#fff" stroke="#3b528b" stroke-width="2.4" stroke-linejoin="miter"/>
<polygon points="138.3,377.2 142.3,381.2 138.3,385.2 134.3,381.2" fill="#fff" stroke="#3b528b" stroke-width="2.4" stroke-linejoin="miter"/>
<polygon points="160.08,364.73 164.08,368.73 160.08,372.73 156.08,368.73" fill="#fff" stroke="#3b528b" stroke-width="2.4" stroke-linejoin="miter"/>
<polygon points="181.85,356.76 185.85,360.76 181.85,364.76 177.85,360.76" fill="#fff" stroke="#3b528b" stroke-width="2.4" stroke-linejoin="miter"/>
<polygon points="203.62,344.63 207.62,348.63 203.62,352.63 199.62,348.63" fill="#fff" stroke="#3b528b" stroke-width="2.4" stroke-linejoin="miter"/>
<polygon points="225.4,343.7 229.4,347.7 225.4,351.7 221.4,347.7" fill="#fff" stroke="#3b528b" stroke-width="2.4" stroke-linejoin="miter"/>
<polygon points="247.18,338.05 251.18,342.05 247.18,346.05 243.18,342.05" fill="#fff" stroke="#3b528b" stroke-width="2.4" stroke-linejoin="miter"/>
<polygon points="268.95,326.96 272.95,330.96 268.95,334.96 264.95,330.96" fill="#fff" stroke="#3b528b" stroke-width="2.4" stroke-linejoin="miter"/>
<polygon points="290.73,319.1 294.73,323.1 290.73,327.1 286.73,323.1" fill="#fff" stroke="#3b528b" stroke-width="2.4" stroke-linejoin="miter"/>
<polygon points="312.5,314.48 316.5,318.48 312.5,322.48 308.5,318.48" fill="#fff" stroke="#3b528b" stroke-width="2.4" stroke-linejoin="miter"/>
<path d="M53.38,408 L72.98,369.07 L94.75,368.15 L116.53,372.54 L138.3,378.43 L160.08,380.04 L181.85,382.82 L203.62,382.93 L225.4,379.81 L247.18,378.2 L268.95,380.16 L290.73,381.43 L312.5,398.76" fill="none" stroke="#2c728e" stroke-width="2.4" stroke-linejoin="round"/>
<polygon points="53.38,411.4 56.48,404.8 50.28,404.8" fill="#fff" stroke="#2c728e" stroke-width="2.5" stroke-linejoin="miter"/>
<polygon points="72.98,372.47 76.08,365.87 69.88,365.87" fill="#fff" stroke="#2c728e" stroke-width="2.5" stroke-linejoin="miter"/>
<polygon points="94.75,371.55 97.85,364.95 91.65,364.95" fill="#fff" stroke="#2c728e" stroke-width="2.5" stroke-linejoin="miter"/>
<polygon points="116.53,375.94 119.62,369.34 113.43,369.34" fill="#fff" stroke="#2c728e" stroke-width="2.5" stroke-linejoin="miter"/>
<polygon points="138.3,381.83 141.4,375.23 135.2,375.23" fill="#fff" stroke="#2c728e" stroke-width="2.5" stroke-linejoin="miter"/>
<polygon points="160.08,383.44 163.18,376.84 156.98,376.84" fill="#fff" stroke="#2c728e" stroke-width="2.5" stroke-linejoin="miter"/>
<polygon points="181.85,386.22 184.95,379.62 178.75,379.62" fill="#fff" stroke="#2c728e" stroke-width="2.5" stroke-linejoin="miter"/>
<polygon points="203.62,386.33 206.72,379.73 200.53,379.73" fill="#fff" stroke="#2c728e" stroke-width="2.5" stroke-linejoin="miter"/>
<polygon points="225.4,383.21 228.5,376.61 222.3,376.61" fill="#fff" stroke="#2c728e" stroke-width="2.5" stroke-linejoin="miter"/>
<polygon points="247.18,381.6 250.28,375 244.08,375" fill="#fff" stroke="#2c728e" stroke-width="2.5" stroke-linejoin="miter"/>
<polygon points="268.95,383.56 272.05,376.96 265.85,376.96" fill="#fff" stroke="#2c728e" stroke-width="2.5" stroke-linejoin="miter"/>
<polygon points="290.73,384.83 293.83,378.23 287.62,378.23" fill="#fff" stroke="#2c728e" stroke-width="2.5" stroke-linejoin="miter"/>
<polygon points="312.5,402.16 315.6,395.56 309.4,395.56" fill="#fff" stroke="#2c728e" stroke-width="2.5" stroke-linejoin="miter"/>
<path d="M53.38,417 L72.98,379.12 L94.75,340.77 L116.53,305.2 L138.3,289.61 L160.08,288.22 L181.85,288.22 L203.62,288.22 L225.4,288.22 L247.18,288.22 L268.95,288.22 L290.73,288.22 L312.5,288.22" fill="none" stroke="#21918c" stroke-width="2.4" stroke-linejoin="round"/>
<polygon points="53.38,413.61 50.28,420.2 56.48,420.2" fill="#fff" stroke="#21918c" stroke-width="2.5" stroke-linejoin="miter"/>
<polygon points="72.98,375.72 69.88,382.32 76.08,382.32" fill="#fff" stroke="#21918c" stroke-width="2.5" stroke-linejoin="miter"/>
<polygon points="94.75,337.38 91.65,343.97 97.85,343.97" fill="#fff" stroke="#21918c" stroke-width="2.5" stroke-linejoin="miter"/>
<polygon points="116.53,301.8 113.43,308.4 119.62,308.4" fill="#fff" stroke="#21918c" stroke-width="2.5" stroke-linejoin="miter"/>
<polygon points="138.3,286.21 135.2,292.81 141.4,292.81" fill="#fff" stroke="#21918c" stroke-width="2.5" stroke-linejoin="miter"/>
<polygon points="160.08,284.82 156.98,291.42 163.18,291.42" fill="#fff" stroke="#21918c" stroke-width="2.5" stroke-linejoin="miter"/>
<polygon points="181.85,284.82 178.75,291.42 184.95,291.42" fill="#fff" stroke="#21918c" stroke-width="2.5" stroke-linejoin="miter"/>
<polygon points="203.62,284.82 200.53,291.42 206.72,291.42" fill="#fff" stroke="#21918c" stroke-width="2.5" stroke-linejoin="miter"/>
<polygon points="225.4,284.82 222.3,291.42 228.5,291.42" fill="#fff" stroke="#21918c" stroke-width="2.5" stroke-linejoin="miter"/>
<polygon points="247.18,284.82 244.08,291.42 250.28,291.42" fill="#fff" stroke="#21918c" stroke-width="2.5" stroke-linejoin="miter"/>
<polygon points="268.95,284.82 265.85,291.42 272.05,291.42" fill="#fff" stroke="#21918c" stroke-width="2.5" stroke-linejoin="miter"/>
<polygon points="290.73,284.82 287.62,291.42 293.83,291.42" fill="#fff" stroke="#21918c" stroke-width="2.5" stroke-linejoin="miter"/>
<polygon points="312.5,284.82 309.4,291.42 315.6,291.42" fill="#fff" stroke="#21918c" stroke-width="2.5" stroke-linejoin="miter"/>
<path d="M53.38,417.58 L72.98,403.14 L94.75,397.02 L116.53,394.02 L138.3,395.64 L160.08,396.91 L181.85,397.72 L203.62,407.42 L225.4,408.11 L247.18,408.69 L268.95,415.97 L290.73,424.28 L312.5,421.62" fill="none" stroke="#28ae80" stroke-width="2.4" stroke-linejoin="round" stroke-dasharray="2.5 4.1" stroke-linecap="butt"/>
<polygon points="49.98,417.58 56.58,420.68 56.58,414.48" fill="#fff" stroke="#28ae80" stroke-width="2.5" stroke-linejoin="miter"/>
<polygon points="69.58,403.14 76.18,406.25 76.18,400.04" fill="#fff" stroke="#28ae80" stroke-width="2.5" stroke-linejoin="miter"/>
<polygon points="91.35,397.02 97.95,400.12 97.95,393.92" fill="#fff" stroke="#28ae80" stroke-width="2.5" stroke-linejoin="miter"/>
<polygon points="113.12,394.02 119.73,397.12 119.73,390.92" fill="#fff" stroke="#28ae80" stroke-width="2.5" stroke-linejoin="miter"/>
<polygon points="134.9,395.64 141.5,398.74 141.5,392.54" fill="#fff" stroke="#28ae80" stroke-width="2.5" stroke-linejoin="miter"/>
<polygon points="156.68,396.91 163.28,400.01 163.28,393.81" fill="#fff" stroke="#28ae80" stroke-width="2.5" stroke-linejoin="miter"/>
<polygon points="178.45,397.72 185.05,400.82 185.05,394.62" fill="#fff" stroke="#28ae80" stroke-width="2.5" stroke-linejoin="miter"/>
<polygon points="200.22,407.42 206.82,410.52 206.82,404.32" fill="#fff" stroke="#28ae80" stroke-width="2.5" stroke-linejoin="miter"/>
<polygon points="222,408.11 228.6,411.21 228.6,405.01" fill="#fff" stroke="#28ae80" stroke-width="2.5" stroke-linejoin="miter"/>
<polygon points="243.78,408.69 250.38,411.79 250.38,405.59" fill="#fff" stroke="#28ae80" stroke-width="2.5" stroke-linejoin="miter"/>
<polygon points="265.55,415.97 272.15,419.07 272.15,412.87" fill="#fff" stroke="#28ae80" stroke-width="2.5" stroke-linejoin="miter"/>
<polygon points="287.33,424.28 293.93,427.38 293.93,421.18" fill="#fff" stroke="#28ae80" stroke-width="2.5" stroke-linejoin="miter"/>
<polygon points="309.1,421.62 315.7,424.73 315.7,418.52" fill="#fff" stroke="#28ae80" stroke-width="2.5" stroke-linejoin="miter"/>
<path d="M53.38,417 L72.98,374.5 L94.75,369.07 L116.53,374.04 L138.3,382.12 L160.08,383.51 L181.85,381.78 L203.62,381.2 L225.4,386.28 L247.18,387.44 L268.95,385.82 L290.73,387.78 L312.5,392.4" fill="none" stroke="#5ec962" stroke-width="2.4" stroke-linejoin="round"/>
<polygon points="56.78,417 50.18,413.9 50.18,420.11" fill="#fff" stroke="#5ec962" stroke-width="2.5" stroke-linejoin="miter"/>
<polygon points="76.38,374.5 69.78,371.4 69.78,377.6" fill="#fff" stroke="#5ec962" stroke-width="2.5" stroke-linejoin="miter"/>
<polygon points="98.15,369.07 91.55,365.97 91.55,372.17" fill="#fff" stroke="#5ec962" stroke-width="2.5" stroke-linejoin="miter"/>
<polygon points="119.93,374.04 113.33,370.94 113.33,377.14" fill="#fff" stroke="#5ec962" stroke-width="2.5" stroke-linejoin="miter"/>
<polygon points="141.7,382.12 135.1,379.02 135.1,385.22" fill="#fff" stroke="#5ec962" stroke-width="2.5" stroke-linejoin="miter"/>
<polygon points="163.48,383.51 156.88,380.41 156.88,386.61" fill="#fff" stroke="#5ec962" stroke-width="2.5" stroke-linejoin="miter"/>
<polygon points="185.25,381.78 178.65,378.68 178.65,384.88" fill="#fff" stroke="#5ec962" stroke-width="2.5" stroke-linejoin="miter"/>
<polygon points="207.03,381.2 200.43,378.1 200.43,384.3" fill="#fff" stroke="#5ec962" stroke-width="2.5" stroke-linejoin="miter"/>
<polygon points="228.8,386.28 222.2,383.18 222.2,389.38" fill="#fff" stroke="#5ec962" stroke-width="2.5" stroke-linejoin="miter"/>
<polygon points="250.58,387.44 243.98,384.34 243.98,390.54" fill="#fff" stroke="#5ec962" stroke-width="2.5" stroke-linejoin="miter"/>
<polygon points="272.35,385.82 265.75,382.72 265.75,388.92" fill="#fff" stroke="#5ec962" stroke-width="2.5" stroke-linejoin="miter"/>
<polygon points="294.12,387.78 287.53,384.68 287.53,390.88" fill="#fff" stroke="#5ec962" stroke-width="2.5" stroke-linejoin="miter"/>
<polygon points="315.9,392.4 309.3,389.3 309.3,395.5" fill="#fff" stroke="#5ec962" stroke-width="2.5" stroke-linejoin="miter"/>
<path d="M53.38,417.58 L72.98,397.02 L94.75,390.44 L116.53,385.01 L138.3,382.12 L160.08,373.69 L181.85,364.11 L203.62,354.63 L225.4,342.05 L247.18,335.23 L268.95,328.07 L290.73,320.56 L312.5,313.86" fill="none" stroke="#addc30" stroke-width="2.4" stroke-linejoin="round" stroke-dasharray="2.5 4.1" stroke-linecap="butt"/>
<polygon points="50.58,414.78 56.18,414.78 56.18,420.38 50.58,420.38" fill="#fff" stroke="#addc30" stroke-width="2.7" stroke-linejoin="miter"/>
<polygon points="70.18,394.22 75.78,394.22 75.78,399.82 70.18,399.82" fill="#fff" stroke="#addc30" stroke-width="2.7" stroke-linejoin="miter"/>
<polygon points="91.95,387.64 97.55,387.64 97.55,393.24 91.95,393.24" fill="#fff" stroke="#addc30" stroke-width="2.7" stroke-linejoin="miter"/>
<polygon points="113.73,382.21 119.33,382.21 119.33,387.81 113.73,387.81" fill="#fff" stroke="#addc30" stroke-width="2.7" stroke-linejoin="miter"/>
<polygon points="135.5,379.32 141.1,379.32 141.1,384.92 135.5,384.92" fill="#fff" stroke="#addc30" stroke-width="2.7" stroke-linejoin="miter"/>
<polygon points="157.28,370.89 162.88,370.89 162.88,376.49 157.28,376.49" fill="#fff" stroke="#addc30" stroke-width="2.7" stroke-linejoin="miter"/>
<polygon points="179.05,361.31 184.65,361.31 184.65,366.91 179.05,366.91" fill="#fff" stroke="#addc30" stroke-width="2.7" stroke-linejoin="miter"/>
<polygon points="200.82,351.83 206.43,351.83 206.43,357.44 200.82,357.44" fill="#fff" stroke="#addc30" stroke-width="2.7" stroke-linejoin="miter"/>
<polygon points="222.6,339.25 228.2,339.25 228.2,344.85 222.6,344.85" fill="#fff" stroke="#addc30" stroke-width="2.7" stroke-linejoin="miter"/>
<polygon points="244.38,332.43 249.98,332.43 249.98,338.03 244.38,338.03" fill="#fff" stroke="#addc30" stroke-width="2.7" stroke-linejoin="miter"/>
<polygon points="266.15,325.27 271.75,325.27 271.75,330.87 266.15,330.87" fill="#fff" stroke="#addc30" stroke-width="2.7" stroke-linejoin="miter"/>
<polygon points="287.93,317.76 293.53,317.76 293.53,323.36 287.93,323.36" fill="#fff" stroke="#addc30" stroke-width="2.7" stroke-linejoin="miter"/>
<polygon points="309.7,311.06 315.3,311.06 315.3,316.66 309.7,316.66" fill="#fff" stroke="#addc30" stroke-width="2.7" stroke-linejoin="miter"/>
<path d="M53.38,418.04 L72.98,407.07 L94.75,402.45 L116.53,400.03 L138.3,400.03 L160.08,400.37 L181.85,401.41 L203.62,402.22 L225.4,402.91 L247.18,403.49 L268.95,409.96 L290.73,421.16 L312.5,425.55" fill="none" stroke="#fde725" stroke-width="2.4" stroke-linejoin="round" stroke-dasharray="2.5 4.1" stroke-linecap="butt"/>
<polygon points="57.63,419.8 55.14,422.29 51.62,422.29 49.13,419.8 49.13,416.28 51.62,413.79 55.14,413.79 57.63,416.28" fill="#fde725"/>
<polygon points="77.22,408.83 74.74,411.32 71.21,411.32 68.73,408.83 68.73,405.31 71.21,402.82 74.74,402.82 77.22,405.31" fill="#fde725"/>
<polygon points="99,404.21 96.51,406.7 92.99,406.7 90.5,404.21 90.5,400.69 92.99,398.2 96.51,398.2 99,400.69" fill="#fde725"/>
<polygon points="120.77,401.79 118.29,404.28 114.76,404.28 112.28,401.79 112.28,398.27 114.76,395.78 118.29,395.78 120.77,398.27" fill="#fde725"/>
<polygon points="142.55,401.79 140.06,404.28 136.54,404.28 134.05,401.79 134.05,398.27 136.54,395.78 140.06,395.78 142.55,398.27" fill="#fde725"/>
<polygon points="164.32,402.13 161.84,404.62 158.31,404.62 155.83,402.13 155.83,398.61 158.31,396.12 161.84,396.12 164.32,398.61" fill="#fde725"/>
<polygon points="186.1,403.17 183.61,405.66 180.09,405.66 177.6,403.17 177.6,399.65 180.09,397.16 183.61,397.16 186.1,399.65" fill="#fde725"/>
<polygon points="207.87,403.98 205.39,406.47 201.86,406.47 199.38,403.98 199.38,400.46 201.86,397.97 205.39,397.97 207.87,400.46" fill="#fde725"/>
<polygon points="229.65,404.67 227.16,407.16 223.64,407.16 221.15,404.67 221.15,401.15 223.64,398.66 227.16,398.66 229.65,401.15" fill="#fde725"/>
<polygon points="251.42,405.25 248.94,407.74 245.41,407.74 242.93,405.25 242.93,401.73 245.41,399.24 248.94,399.24 251.42,401.73" fill="#fde725"/>
<polygon points="273.2,411.72 270.71,414.21 267.19,414.21 264.7,411.72 264.7,408.2 267.19,405.71 270.71,405.71 273.2,408.2" fill="#fde725"/>
<polygon points="294.97,422.92 292.49,425.41 288.96,425.41 286.48,422.92 286.48,419.4 288.96,416.91 292.49,416.91 294.97,419.4" fill="#fde725"/>
<polygon points="316.75,427.31 314.26,429.8 310.74,429.8 308.25,427.31 308.25,423.79 310.74,421.3 314.26,421.3 316.75,423.79" fill="#fde725"/>
</g>
<text x="51.2" y="476" text-anchor="middle" font-size="13.6" fill="#262626" style="font-family:&quot;Liberation Serif&quot;,serif">0</text>
<text x="94.75" y="476" text-anchor="middle" font-size="13.6" fill="#262626" style="font-family:&quot;Liberation Serif&quot;,serif">10</text>
<text x="138.3" y="476" text-anchor="middle" font-size="13.6" fill="#262626" style="font-family:&quot;Liberation Serif&quot;,serif">20</text>
<text x="181.85" y="476" text-anchor="middle" font-size="13.6" fill="#262626" style="font-family:&quot;Liberation Serif&quot;,serif">30</text>
<text x="225.4" y="476" text-anchor="middle" font-size="13.6" fill="#262626" style="font-family:&quot;Liberation Serif&quot;,serif">40</text>
<text x="268.95" y="476" text-anchor="middle" font-size="13.6" fill="#262626" style="font-family:&quot;Liberation Serif&quot;,serif">50</text>
<text x="312.5" y="476" text-anchor="middle" font-size="13.6" fill="#262626" style="font-family:&quot;Liberation Serif&quot;,serif">60</text>
<text x="37.2" y="455.86" text-anchor="end" font-size="13.6" fill="#262626" style="font-family:&quot;Liberation Serif&quot;,serif">−2</text>
<text x="37.2" y="432.8" text-anchor="end" font-size="13.6" fill="#262626" style="font-family:&quot;Liberation Serif&quot;,serif">0</text>
<text x="37.2" y="409.74" text-anchor="end" font-size="13.6" fill="#262626" style="font-family:&quot;Liberation Serif&quot;,serif">2</text>
<text x="37.2" y="386.68" text-anchor="end" font-size="13.6" fill="#262626" style="font-family:&quot;Liberation Serif&quot;,serif">4</text>
<text x="37.2" y="363.61" text-anchor="end" font-size="13.6" fill="#262626" style="font-family:&quot;Liberation Serif&quot;,serif">6</text>
<text x="37.2" y="340.55" text-anchor="end" font-size="13.6" fill="#262626" style="font-family:&quot;Liberation Serif&quot;,serif">8</text>
<text x="37.2" y="317.49" text-anchor="end" font-size="13.6" fill="#262626" style="font-family:&quot;Liberation Serif&quot;,serif">10</text>
<text x="37.2" y="294.43" text-anchor="end" font-size="13.6" fill="#262626" style="font-family:&quot;Liberation Serif&quot;,serif">12</text>
<text x="182.8" y="492.7" text-anchor="middle" font-size="15.4" fill="#262626" style="font-family:&quot;Liberation Serif&quot;,serif">Time / s</text>
<text transform="translate(15,371.5) rotate(-90)" x="0" y="0" text-anchor="middle" font-size="15.4" fill="#262626" style="font-family:&quot;Liberation Serif&quot;,serif">Range on Horizontal Direction / m</text>
<rect x="78.2" y="416.7" width="129.7" height="44.8" rx="3" fill="#707070" opacity="0.6"/>
<rect x="76.7" y="415.2" width="129.7" height="44.8" rx="3" fill="#fff" fill-opacity="0.93" stroke="#d0d0d0" stroke-width="1"/>
<path d="M76.9,420.4 L99.3,420.4" fill="none" stroke="#472d7b" stroke-width="2.4" stroke-linejoin="round"/>
<circle cx="88.1" cy="420.4" r="3.1" fill="#fff" stroke="#472d7b" stroke-width="2.2"/>
<text x="106.2" y="424" font-size="10" fill="#262626" style="font-family:&quot;Liberation Serif&quot;,serif">Case1</text>
<path d="M76.9,431 L99.3,431" fill="none" stroke="#3b528b" stroke-width="2.4" stroke-linejoin="round" stroke-dasharray="2.5 4.1" stroke-linecap="butt"/>
<polygon points="88.1,427 92.1,431 88.1,435 84.1,431" fill="#fff" stroke="#3b528b" stroke-width="2.4" stroke-linejoin="miter"/>
<text x="106.2" y="434.6" font-size="10" fill="#262626" style="font-family:&quot;Liberation Serif&quot;,serif">Case2</text>
<path d="M76.9,441.6 L99.3,441.6" fill="none" stroke="#2c728e" stroke-width="2.4" stroke-linejoin="round"/>
<polygon points="88.1,445 91.2,438.4 85,438.4" fill="#fff" stroke="#2c728e" stroke-width="2.5" stroke-linejoin="miter"/>
<text x="106.2" y="445.2" font-size="10" fill="#262626" style="font-family:&quot;Liberation Serif&quot;,serif">Case3</text>
<path d="M76.9,452.2 L99.3,452.2" fill="none" stroke="#21918c" stroke-width="2.4" stroke-linejoin="round"/>
<polygon points="88.1,448.8 85,455.4 91.2,455.4" fill="#fff" stroke="#21918c" stroke-width="2.5" stroke-linejoin="miter"/>
<text x="106.2" y="455.8" font-size="10" fill="#262626" style="font-family:&quot;Liberation Serif&quot;,serif">Case4</text>
<path d="M151.2,420.4 L173.6,420.4" fill="none" stroke="#28ae80" stroke-width="2.4" stroke-linejoin="round" stroke-dasharray="2.5 4.1" stroke-linecap="butt"/>
<polygon points="159,420.4 165.6,423.5 165.6,417.3" fill="#fff" stroke="#28ae80" stroke-width="2.5" stroke-linejoin="miter"/>
<text x="180.5" y="424" font-size="10" fill="#262626" style="font-family:&quot;Liberation Serif&quot;,serif">Case5</text>
<path d="M151.2,431 L173.6,431" fill="none" stroke="#5ec962" stroke-width="2.4" stroke-linejoin="round"/>
<polygon points="165.8,431 159.2,427.9 159.2,434.1" fill="#fff" stroke="#5ec962" stroke-width="2.5" stroke-linejoin="miter"/>
<text x="180.5" y="434.6" font-size="10" fill="#262626" style="font-family:&quot;Liberation Serif&quot;,serif">Case6</text>
<path d="M151.2,441.6 L173.6,441.6" fill="none" stroke="#addc30" stroke-width="2.4" stroke-linejoin="round" stroke-dasharray="2.5 4.1" stroke-linecap="butt"/>
<polygon points="159.6,438.8 165.2,438.8 165.2,444.4 159.6,444.4" fill="#fff" stroke="#addc30" stroke-width="2.7" stroke-linejoin="miter"/>
<text x="180.5" y="445.2" font-size="10" fill="#262626" style="font-family:&quot;Liberation Serif&quot;,serif">Case7</text>
<path d="M151.2,452.2 L173.6,452.2" fill="none" stroke="#fde725" stroke-width="2.4" stroke-linejoin="round" stroke-dasharray="2.5 4.1" stroke-linecap="butt"/>
<polygon points="166.65,453.96 164.16,456.45 160.64,456.45 158.15,453.96 158.15,450.44 160.64,447.95 164.16,447.95 166.65,450.44" fill="#fde725"/>
<text x="180.5" y="455.8" font-size="10" fill="#262626" style="font-family:&quot;Liberation Serif&quot;,serif">Case8</text>
<line x1="411.8" y1="279.8" x2="411.8" y2="462.6" stroke="#d6d6d6" stroke-width="1"/>
<line x1="454.95" y1="279.8" x2="454.95" y2="462.6" stroke="#d6d6d6" stroke-width="1"/>
<line x1="498.1" y1="279.8" x2="498.1" y2="462.6" stroke="#d6d6d6" stroke-width="1"/>
<line x1="541.25" y1="279.8" x2="541.25" y2="462.6" stroke="#d6d6d6" stroke-width="1"/>
<line x1="584.4" y1="279.8" x2="584.4" y2="462.6" stroke="#d6d6d6" stroke-width="1"/>
<line x1="627.55" y1="279.8" x2="627.55" y2="462.6" stroke="#d6d6d6" stroke-width="1"/>
<line x1="670.7" y1="279.8" x2="670.7" y2="462.6" stroke="#d6d6d6" stroke-width="1"/>
<line x1="401.3" y1="446.35" x2="684" y2="446.35" stroke="#d6d6d6" stroke-width="1"/>
<line x1="401.3" y1="419.43" x2="684" y2="419.43" stroke="#d6d6d6" stroke-width="1"/>
<line x1="401.3" y1="392.51" x2="684" y2="392.51" stroke="#d6d6d6" stroke-width="1"/>
<line x1="401.3" y1="365.59" x2="684" y2="365.59" stroke="#d6d6d6" stroke-width="1"/>
<line x1="401.3" y1="338.67" x2="684" y2="338.67" stroke="#d6d6d6" stroke-width="1"/>
<line x1="401.3" y1="311.75" x2="684" y2="311.75" stroke="#d6d6d6" stroke-width="1"/>
<line x1="401.3" y1="284.83" x2="684" y2="284.83" stroke="#d6d6d6" stroke-width="1"/>
<rect x="401.3" y="279.8" width="282.7" height="182.8" fill="none" stroke="#cfcfcf" stroke-width="1.2"/>
<g clip-path="url(#clipD)">
<path d="M413.96,414.94 L433.38,363.41 L454.95,293.98 L476.53,291.81 L498.1,291.81 L519.68,291.81 L541.25,291.81 L562.83,291.81 L584.4,291.81 L605.98,291.81 L627.55,291.81 L649.12,291.81 L670.7,291.81" fill="none" stroke="#472d7b" stroke-width="2.4" stroke-linejoin="round"/>
<circle cx="413.96" cy="414.94" r="3.1" fill="#fff" stroke="#472d7b" stroke-width="2.2"/>
<circle cx="433.38" cy="363.41" r="3.1" fill="#fff" stroke="#472d7b" stroke-width="2.2"/>
<circle cx="454.95" cy="293.98" r="3.1" fill="#fff" stroke="#472d7b" stroke-width="2.2"/>
<circle cx="476.53" cy="291.81" r="3.1" fill="#fff" stroke="#472d7b" stroke-width="2.2"/>
<circle cx="498.1" cy="291.81" r="3.1" fill="#fff" stroke="#472d7b" stroke-width="2.2"/>
<circle cx="519.68" cy="291.81" r="3.1" fill="#fff" stroke="#472d7b" stroke-width="2.2"/>
<circle cx="541.25" cy="291.81" r="3.1" fill="#fff" stroke="#472d7b" stroke-width="2.2"/>
<circle cx="562.83" cy="291.81" r="3.1" fill="#fff" stroke="#472d7b" stroke-width="2.2"/>
<circle cx="584.4" cy="291.81" r="3.1" fill="#fff" stroke="#472d7b" stroke-width="2.2"/>
<circle cx="605.98" cy="291.81" r="3.1" fill="#fff" stroke="#472d7b" stroke-width="2.2"/>
<circle cx="627.55" cy="291.81" r="3.1" fill="#fff" stroke="#472d7b" stroke-width="2.2"/>
<circle cx="649.12" cy="291.81" r="3.1" fill="#fff" stroke="#472d7b" stroke-width="2.2"/>
<circle cx="670.7" cy="291.81" r="3.1" fill="#fff" stroke="#472d7b" stroke-width="2.2"/>
<path d="M413.96,425.24 L433.38,348.22 L454.95,331.41 L476.53,310.8 L498.1,291.81 L519.68,292.35 L541.25,293.98 L562.83,298.86 L584.4,294.52 L605.98,301.57 L627.55,298.32 L649.12,301.57 L670.7,312.42" fill="none" stroke="#3b528b" stroke-width="2.4" stroke-linejoin="round" stroke-dasharray="2.5 4.1" stroke-linecap="butt"/>
<polygon points="413.96,421.24 417.96,425.24 413.96,429.24 409.96,425.24" fill="#fff" stroke="#3b528b" stroke-width="2.4" stroke-linejoin="miter"/>
<polygon points="433.38,344.22 437.38,348.22 433.38,352.22 429.38,348.22" fill="#fff" stroke="#3b528b" stroke-width="2.4" stroke-linejoin="miter"/>
<polygon points="454.95,327.41 458.95,331.41 454.95,335.41 450.95,331.41" fill="#fff" stroke="#3b528b" stroke-width="2.4" stroke-linejoin="miter"/>
<polygon points="476.53,306.8 480.53,310.8 476.53,314.8 472.53,310.8" fill="#fff" stroke="#3b528b" stroke-width="2.4" stroke-linejoin="miter"/>
<polygon points="498.1,287.81 502.1,291.81 498.1,295.81 494.1,291.81" fill="#fff" stroke="#3b528b" stroke-width="2.4" stroke-linejoin="miter"/>
<polygon points="519.68,288.35 523.68,292.35 519.68,296.35 515.68,292.35" fill="#fff" stroke="#3b528b" stroke-width="2.4" stroke-linejoin="miter"/>
<polygon points="541.25,289.98 545.25,293.98 541.25,297.98 537.25,293.98" fill="#fff" stroke="#3b528b" stroke-width="2.4" stroke-linejoin="miter"/>
<polygon points="562.83,294.86 566.83,298.86 562.83,302.86 558.83,298.86" fill="#fff" stroke="#3b528b" stroke-width="2.4" stroke-linejoin="miter"/>
<polygon points="584.4,290.52 588.4,294.52 584.4,298.52 580.4,294.52" fill="#fff" stroke="#3b528b" stroke-width="2.4" stroke-linejoin="miter"/>
<polygon points="605.98,297.57 609.98,301.57 605.98,305.57 601.98,301.57" fill="#fff" stroke="#3b528b" stroke-width="2.4" stroke-linejoin="miter"/>
<polygon points="627.55,294.32 631.55,298.32 627.55,302.32 623.55,298.32" fill="#fff" stroke="#3b528b" stroke-width="2.4" stroke-linejoin="miter"/>
<polygon points="649.12,297.57 653.12,301.57 649.12,305.57 645.12,301.57" fill="#fff" stroke="#3b528b" stroke-width="2.4" stroke-linejoin="miter"/>
<polygon points="670.7,308.42 674.7,312.42 670.7,316.42 666.7,312.42" fill="#fff" stroke="#3b528b" stroke-width="2.4" stroke-linejoin="miter"/>
<path d="M413.96,409.51 L433.38,297.78 L454.95,291.81 L476.53,291.81 L498.1,291.81 L519.68,292.35 L541.25,292.9 L562.83,294.52 L584.4,295.61 L605.98,297.24 L627.55,299.95 L649.12,304.29 L670.7,330.32" fill="none" stroke="#2c728e" stroke-width="2.4" stroke-linejoin="round"/>
<polygon points="413.96,412.91 417.06,406.31 410.86,406.31" fill="#fff" stroke="#2c728e" stroke-width="2.5" stroke-linejoin="miter"/>
<polygon points="433.38,301.18 436.48,294.58 430.27,294.58" fill="#fff" stroke="#2c728e" stroke-width="2.5" stroke-linejoin="miter"/>
<polygon points="454.95,295.21 458.05,288.61 451.85,288.61" fill="#fff" stroke="#2c728e" stroke-width="2.5" stroke-linejoin="miter"/>
<polygon points="476.53,295.21 479.63,288.61 473.43,288.61" fill="#fff" stroke="#2c728e" stroke-width="2.5" stroke-linejoin="miter"/>
<polygon points="498.1,295.21 501.2,288.61 495,288.61" fill="#fff" stroke="#2c728e" stroke-width="2.5" stroke-linejoin="miter"/>
<polygon points="519.68,295.75 522.78,289.15 516.58,289.15" fill="#fff" stroke="#2c728e" stroke-width="2.5" stroke-linejoin="miter"/>
<polygon points="541.25,296.3 544.35,289.7 538.15,289.7" fill="#fff" stroke="#2c728e" stroke-width="2.5" stroke-linejoin="miter"/>
<polygon points="562.83,297.92 565.93,291.32 559.73,291.32" fill="#fff" stroke="#2c728e" stroke-width="2.5" stroke-linejoin="miter"/>
<polygon points="584.4,299.01 587.5,292.41 581.3,292.41" fill="#fff" stroke="#2c728e" stroke-width="2.5" stroke-linejoin="miter"/>
<polygon points="605.98,300.64 609.08,294.04 602.88,294.04" fill="#fff" stroke="#2c728e" stroke-width="2.5" stroke-linejoin="miter"/>
<polygon points="627.55,303.35 630.65,296.75 624.45,296.75" fill="#fff" stroke="#2c728e" stroke-width="2.5" stroke-linejoin="miter"/>
<polygon points="649.12,307.69 652.23,301.09 646.02,301.09" fill="#fff" stroke="#2c728e" stroke-width="2.5" stroke-linejoin="miter"/>
<polygon points="670.7,333.72 673.8,327.12 667.6,327.12" fill="#fff" stroke="#2c728e" stroke-width="2.5" stroke-linejoin="miter"/>
<path d="M413.96,375.34 L433.38,292.35 L454.95,292.35 L476.53,292.35 L498.1,292.35 L519.68,292.35 L541.25,292.35 L562.83,292.35 L584.4,292.35 L605.98,292.35 L627.55,292.35 L649.12,292.35 L670.7,294.52" fill="none" stroke="#21918c" stroke-width="2.4" stroke-linejoin="round"/>
<polygon points="413.96,371.94 410.86,378.54 417.06,378.54" fill="#fff" stroke="#21918c" stroke-width="2.5" stroke-linejoin="miter"/>
<polygon points="433.38,288.95 430.27,295.55 436.48,295.55" fill="#fff" stroke="#21918c" stroke-width="2.5" stroke-linejoin="miter"/>
<polygon points="454.95,288.95 451.85,295.55 458.05,295.55" fill="#fff" stroke="#21918c" stroke-width="2.5" stroke-linejoin="miter"/>
<polygon points="476.53,288.95 473.43,295.55 479.63,295.55" fill="#fff" stroke="#21918c" stroke-width="2.5" stroke-linejoin="miter"/>
<polygon points="498.1,288.95 495,295.55 501.2,295.55" fill="#fff" stroke="#21918c" stroke-width="2.5" stroke-linejoin="miter"/>
<polygon points="519.68,288.95 516.58,295.55 522.78,295.55" fill="#fff" stroke="#21918c" stroke-width="2.5" stroke-linejoin="miter"/>
<polygon points="541.25,288.95 538.15,295.55 544.35,295.55" fill="#fff" stroke="#21918c" stroke-width="2.5" stroke-linejoin="miter"/>
<polygon points="562.83,288.95 559.73,295.55 565.93,295.55" fill="#fff" stroke="#21918c" stroke-width="2.5" stroke-linejoin="miter"/>
<polygon points="584.4,288.95 581.3,295.55 587.5,295.55" fill="#fff" stroke="#21918c" stroke-width="2.5" stroke-linejoin="miter"/>
<polygon points="605.98,288.95 602.88,295.55 609.08,295.55" fill="#fff" stroke="#21918c" stroke-width="2.5" stroke-linejoin="miter"/>
<polygon points="627.55,288.95 624.45,295.55 630.65,295.55" fill="#fff" stroke="#21918c" stroke-width="2.5" stroke-linejoin="miter"/>
<polygon points="649.12,288.95 646.02,295.55 652.23,295.55" fill="#fff" stroke="#21918c" stroke-width="2.5" stroke-linejoin="miter"/>
<polygon points="670.7,291.12 667.6,297.72 673.8,297.72" fill="#fff" stroke="#21918c" stroke-width="2.5" stroke-linejoin="miter"/>
<path d="M413.96,421.99 L433.38,323.81 L454.95,295.61 L476.53,293.98 L498.1,293.98 L519.68,296.69 L541.25,301.03 L562.83,311.34 L584.4,314.59 L605.98,316.76 L627.55,343.34 L649.12,391.07 L670.7,451.28" fill="none" stroke="#28ae80" stroke-width="2.4" stroke-linejoin="round" stroke-dasharray="2.5 4.1" stroke-linecap="butt"/>
<polygon points="410.56,421.99 417.16,425.09 417.16,418.89" fill="#fff" stroke="#28ae80" stroke-width="2.5" stroke-linejoin="miter"/>
<polygon points="429.98,323.81 436.57,326.91 436.57,320.71" fill="#fff" stroke="#28ae80" stroke-width="2.5" stroke-linejoin="miter"/>
<polygon points="451.55,295.61 458.15,298.71 458.15,292.51" fill="#fff" stroke="#28ae80" stroke-width="2.5" stroke-linejoin="miter"/>
<polygon points="473.13,293.98 479.73,297.08 479.73,290.88" fill="#fff" stroke="#28ae80" stroke-width="2.5" stroke-linejoin="miter"/>
<polygon points="494.7,293.98 501.3,297.08 501.3,290.88" fill="#fff" stroke="#28ae80" stroke-width="2.5" stroke-linejoin="miter"/>
<polygon points="516.28,296.69 522.88,299.79 522.88,293.59" fill="#fff" stroke="#28ae80" stroke-width="2.5" stroke-linejoin="miter"/>
<polygon points="537.85,301.03 544.45,304.13 544.45,297.93" fill="#fff" stroke="#28ae80" stroke-width="2.5" stroke-linejoin="miter"/>
<polygon points="559.43,311.34 566.03,314.44 566.03,308.24" fill="#fff" stroke="#28ae80" stroke-width="2.5" stroke-linejoin="miter"/>
<polygon points="581,314.59 587.6,317.69 587.6,311.49" fill="#fff" stroke="#28ae80" stroke-width="2.5" stroke-linejoin="miter"/>
<polygon points="602.58,316.76 609.18,319.86 609.18,313.66" fill="#fff" stroke="#28ae80" stroke-width="2.5" stroke-linejoin="miter"/>
<polygon points="624.15,343.34 630.75,346.44 630.75,340.24" fill="#fff" stroke="#28ae80" stroke-width="2.5" stroke-linejoin="miter"/>
<polygon points="645.73,391.07 652.33,394.17 652.33,387.97" fill="#fff" stroke="#28ae80" stroke-width="2.5" stroke-linejoin="miter"/>
<polygon points="667.3,451.28 673.9,454.38 673.9,448.18" fill="#fff" stroke="#28ae80" stroke-width="2.5" stroke-linejoin="miter"/>
<path d="M413.96,398.66 L433.38,291.81 L454.95,292.35 L476.53,292.9 L498.1,293.44 L519.68,350.39 L541.25,360.15 L562.83,317.85 L584.4,302.12 L605.98,317.3 L627.55,326.52 L649.12,349.31 L670.7,384.02" fill="none" stroke="#5ec962" stroke-width="2.4" stroke-linejoin="round"/>
<polygon points="417.36,398.66 410.76,395.56 410.76,401.76" fill="#fff" stroke="#5ec962" stroke-width="2.5" stroke-linejoin="miter"/>
<polygon points="436.77,291.81 430.18,288.71 430.18,294.91" fill="#fff" stroke="#5ec962" stroke-width="2.5" stroke-linejoin="miter"/>
<polygon points="458.35,292.35 451.75,289.25 451.75,295.45" fill="#fff" stroke="#5ec962" stroke-width="2.5" stroke-linejoin="miter"/>
<polygon points="479.93,292.9 473.33,289.8 473.33,296" fill="#fff" stroke="#5ec962" stroke-width="2.5" stroke-linejoin="miter"/>
<polygon points="501.5,293.44 494.9,290.34 494.9,296.54" fill="#fff" stroke="#5ec962" stroke-width="2.5" stroke-linejoin="miter"/>
<polygon points="523.08,350.39 516.48,347.29 516.48,353.49" fill="#fff" stroke="#5ec962" stroke-width="2.5" stroke-linejoin="miter"/>
<polygon points="544.65,360.15 538.05,357.05 538.05,363.25" fill="#fff" stroke="#5ec962" stroke-width="2.5" stroke-linejoin="miter"/>
<polygon points="566.23,317.85 559.62,314.75 559.62,320.95" fill="#fff" stroke="#5ec962" stroke-width="2.5" stroke-linejoin="miter"/>
<polygon points="587.8,302.12 581.2,299.02 581.2,305.22" fill="#fff" stroke="#5ec962" stroke-width="2.5" stroke-linejoin="miter"/>
<polygon points="609.38,317.3 602.77,314.2 602.77,320.4" fill="#fff" stroke="#5ec962" stroke-width="2.5" stroke-linejoin="miter"/>
<polygon points="630.95,326.52 624.35,323.42 624.35,329.62" fill="#fff" stroke="#5ec962" stroke-width="2.5" stroke-linejoin="miter"/>
<polygon points="652.52,349.31 645.92,346.21 645.92,352.41" fill="#fff" stroke="#5ec962" stroke-width="2.5" stroke-linejoin="miter"/>
<polygon points="674.1,384.02 667.5,380.92 667.5,387.12" fill="#fff" stroke="#5ec962" stroke-width="2.5" stroke-linejoin="miter"/>
<path d="M413.96,400.83 L433.38,333.58 L454.95,297.78 L476.53,293.44 L498.1,293.44 L519.68,296.15 L541.25,302.66 L562.83,297.78 L584.4,293.44 L605.98,293.44 L627.55,354.19 L649.12,352.56 L670.7,348.22" fill="none" stroke="#addc30" stroke-width="2.4" stroke-linejoin="round" stroke-dasharray="2.5 4.1" stroke-linecap="butt"/>
<polygon points="411.16,398.03 416.76,398.03 416.76,403.63 411.16,403.63" fill="#fff" stroke="#addc30" stroke-width="2.7" stroke-linejoin="miter"/>
<polygon points="430.57,330.78 436.18,330.78 436.18,336.38 430.57,336.38" fill="#fff" stroke="#addc30" stroke-width="2.7" stroke-linejoin="miter"/>
<polygon points="452.15,294.98 457.75,294.98 457.75,300.58 452.15,300.58" fill="#fff" stroke="#addc30" stroke-width="2.7" stroke-linejoin="miter"/>
<polygon points="473.73,290.64 479.33,290.64 479.33,296.24 473.73,296.24" fill="#fff" stroke="#addc30" stroke-width="2.7" stroke-linejoin="miter"/>
<polygon points="495.3,290.64 500.9,290.64 500.9,296.24 495.3,296.24" fill="#fff" stroke="#addc30" stroke-width="2.7" stroke-linejoin="miter"/>
<polygon points="516.88,293.35 522.48,293.35 522.48,298.95 516.88,298.95" fill="#fff" stroke="#addc30" stroke-width="2.7" stroke-linejoin="miter"/>
<polygon points="538.45,299.86 544.05,299.86 544.05,305.46 538.45,305.46" fill="#fff" stroke="#addc30" stroke-width="2.7" stroke-linejoin="miter"/>
<polygon points="560.03,294.98 565.62,294.98 565.62,300.58 560.03,300.58" fill="#fff" stroke="#addc30" stroke-width="2.7" stroke-linejoin="miter"/>
<polygon points="581.6,290.64 587.2,290.64 587.2,296.24 581.6,296.24" fill="#fff" stroke="#addc30" stroke-width="2.7" stroke-linejoin="miter"/>
<polygon points="603.18,290.64 608.77,290.64 608.77,296.24 603.18,296.24" fill="#fff" stroke="#addc30" stroke-width="2.7" stroke-linejoin="miter"/>
<polygon points="624.75,351.39 630.35,351.39 630.35,356.99 624.75,356.99" fill="#fff" stroke="#addc30" stroke-width="2.7" stroke-linejoin="miter"/>
<polygon points="646.33,349.76 651.92,349.76 651.92,355.36 646.33,355.36" fill="#fff" stroke="#addc30" stroke-width="2.7" stroke-linejoin="miter"/>
<polygon points="667.9,345.42 673.5,345.42 673.5,351.02 667.9,351.02" fill="#fff" stroke="#addc30" stroke-width="2.7" stroke-linejoin="miter"/>
<path d="M413.96,416.56 L433.38,341.71 L454.95,292.9 L476.53,292.9 L498.1,293.44 L519.68,302.12 L541.25,310.8 L562.83,337.37 L584.4,346.05 L605.98,349.31 L627.55,360.15 L649.12,356.36 L670.7,381.85" fill="none" stroke="#fde725" stroke-width="2.4" stroke-linejoin="round" stroke-dasharray="2.5 4.1" stroke-linecap="butt"/>
<polygon points="418.21,418.32 415.72,420.81 412.2,420.81 409.71,418.32 409.71,414.8 412.2,412.31 415.72,412.31 418.21,414.8" fill="#fde725"/>
<polygon points="437.62,343.47 435.14,345.96 431.61,345.96 429.13,343.47 429.13,339.95 431.61,337.46 435.14,337.46 437.62,339.95" fill="#fde725"/>
<polygon points="459.2,294.66 456.71,297.15 453.19,297.15 450.7,294.66 450.7,291.14 453.19,288.65 456.71,288.65 459.2,291.14" fill="#fde725"/>
<polygon points="480.77,294.66 478.29,297.15 474.76,297.15 472.28,294.66 472.28,291.14 474.76,288.65 478.29,288.65 480.77,291.14" fill="#fde725"/>
<polygon points="502.35,295.2 499.86,297.69 496.34,297.69 493.85,295.2 493.85,291.68 496.34,289.19 499.86,289.19 502.35,291.68" fill="#fde725"/>
<polygon points="523.92,303.88 521.44,306.37 517.91,306.37 515.43,303.88 515.43,300.36 517.91,297.87 521.44,297.87 523.92,300.36" fill="#fde725"/>
<polygon points="545.5,312.56 543.01,315.05 539.49,315.05 537,312.56 537,309.03 539.49,306.55 543.01,306.55 545.5,309.03" fill="#fde725"/>
<polygon points="567.07,339.13 564.59,341.62 561.06,341.62 558.58,339.13 558.58,335.61 561.06,333.12 564.59,333.12 567.07,335.61" fill="#fde725"/>
<polygon points="588.65,347.81 586.16,350.3 582.64,350.3 580.15,347.81 580.15,344.29 582.64,341.8 586.16,341.8 588.65,344.29" fill="#fde725"/>
<polygon points="610.22,351.07 607.74,353.56 604.21,353.56 601.73,351.07 601.73,347.55 604.21,345.06 607.74,345.06 610.22,347.55" fill="#fde725"/>
<polygon points="631.8,361.91 629.31,364.4 625.79,364.4 623.3,361.91 623.3,358.39 625.79,355.9 629.31,355.9 631.8,358.39" fill="#fde725"/>
<polygon points="653.37,358.12 650.89,360.61 647.36,360.61 644.88,358.12 644.88,354.6 647.36,352.11 650.89,352.11 653.37,354.6" fill="#fde725"/>
<polygon points="674.95,383.61 672.46,386.1 668.94,386.1 666.45,383.61 666.45,380.09 668.94,377.6 672.46,377.6 674.95,380.09" fill="#fde725"/>
</g>
<text x="411.8" y="476" text-anchor="middle" font-size="13.6" fill="#262626" style="font-family:&quot;Liberation Serif&quot;,serif">0</text>
<text x="454.95" y="476" text-anchor="middle" font-size="13.6" fill="#262626" style="font-family:&quot;Liberation Serif&quot;,serif">10</text>
<text x="498.1" y="476" text-anchor="middle" font-size="13.6" fill="#262626" style="font-family:&quot;Liberation Serif&quot;,serif">20</text>
<text x="541.25" y="476" text-anchor="middle" font-size="13.6" fill="#262626" style="font-family:&quot;Liberation Serif&quot;,serif">30</text>
<text x="584.4" y="476" text-anchor="middle" font-size="13.6" fill="#262626" style="font-family:&quot;Liberation Serif&quot;,serif">40</text>
<text x="627.55" y="476" text-anchor="middle" font-size="13.6" fill="#262626" style="font-family:&quot;Liberation Serif&quot;,serif">50</text>
<text x="670.7" y="476" text-anchor="middle" font-size="13.6" fill="#262626" style="font-family:&quot;Liberation Serif&quot;,serif">60</text>
<text x="397.4" y="452.75" text-anchor="end" font-size="13.6" fill="#262626" style="font-family:&quot;Liberation Serif&quot;,serif">0.5</text>
<text x="397.4" y="425.83" text-anchor="end" font-size="13.6" fill="#262626" style="font-family:&quot;Liberation Serif&quot;,serif">1.0</text>
<text x="397.4" y="398.91" text-anchor="end" font-size="13.6" fill="#262626" style="font-family:&quot;Liberation Serif&quot;,serif">1.5</text>
<text x="397.4" y="371.99" text-anchor="end" font-size="13.6" fill="#262626" style="font-family:&quot;Liberation Serif&quot;,serif">2.0</text>
<text x="397.4" y="345.07" text-anchor="end" font-size="13.6" fill="#262626" style="font-family:&quot;Liberation Serif&quot;,serif">2.5</text>
<text x="397.4" y="318.15" text-anchor="end" font-size="13.6" fill="#262626" style="font-family:&quot;Liberation Serif&quot;,serif">3.0</text>
<text x="397.4" y="291.23" text-anchor="end" font-size="13.6" fill="#262626" style="font-family:&quot;Liberation Serif&quot;,serif">3.5</text>
<text x="542.1" y="492.4" text-anchor="middle" font-size="15.4" fill="#262626" style="font-family:&quot;Liberation Serif&quot;,serif">Time / s</text>
<text transform="translate(373.2,371.3) rotate(-90)" x="0" y="0" text-anchor="middle" font-size="15.4" fill="#262626" style="font-family:&quot;Liberation Serif&quot;,serif">Range on Vertical Direction / m</text>
<rect x="438" y="417.8" width="128.3" height="44.3" rx="3" fill="#707070" opacity="0.6"/>
<rect x="436.5" y="416.3" width="128.3" height="44.3" rx="3" fill="#fff" fill-opacity="0.93" stroke="#d0d0d0" stroke-width="1"/>
<path d="M436.7,421.5 L459.1,421.5" fill="none" stroke="#472d7b" stroke-width="2.4" stroke-linejoin="round"/>
<circle cx="447.9" cy="421.5" r="3.1" fill="#fff" stroke="#472d7b" stroke-width="2.2"/>
<text x="466" y="425.1" font-size="10" fill="#262626" style="font-family:&quot;Liberation Serif&quot;,serif">Case1</text>
<path d="M436.7,432.1 L459.1,432.1" fill="none" stroke="#3b528b" stroke-width="2.4" stroke-linejoin="round" stroke-dasharray="2.5 4.1" stroke-linecap="butt"/>
<polygon points="447.9,428.1 451.9,432.1 447.9,436.1 443.9,432.1" fill="#fff" stroke="#3b528b" stroke-width="2.4" stroke-linejoin="miter"/>
<text x="466" y="435.7" font-size="10" fill="#262626" style="font-family:&quot;Liberation Serif&quot;,serif">Case2</text>
<path d="M436.7,442.7 L459.1,442.7" fill="none" stroke="#2c728e" stroke-width="2.4" stroke-linejoin="round"/>
<polygon points="447.9,446.1 451,439.5 444.8,439.5" fill="#fff" stroke="#2c728e" stroke-width="2.5" stroke-linejoin="miter"/>
<text x="466" y="446.3" font-size="10" fill="#262626" style="font-family:&quot;Liberation Serif&quot;,serif">Case3</text>
<path d="M436.7,453.3 L459.1,453.3" fill="none" stroke="#21918c" stroke-width="2.4" stroke-linejoin="round"/>
<polygon points="447.9,449.9 444.8,456.5 451,456.5" fill="#fff" stroke="#21918c" stroke-width="2.5" stroke-linejoin="miter"/>
<text x="466" y="456.9" font-size="10" fill="#262626" style="font-family:&quot;Liberation Serif&quot;,serif">Case4</text>
<path d="M511,421.5 L533.4,421.5" fill="none" stroke="#28ae80" stroke-width="2.4" stroke-linejoin="round" stroke-dasharray="2.5 4.1" stroke-linecap="butt"/>
<polygon points="518.8,421.5 525.4,424.6 525.4,418.4" fill="#fff" stroke="#28ae80" stroke-width="2.5" stroke-linejoin="miter"/>
<text x="540.3" y="425.1" font-size="10" fill="#262626" style="font-family:&quot;Liberation Serif&quot;,serif">Case5</text>
<path d="M511,432.1 L533.4,432.1" fill="none" stroke="#5ec962" stroke-width="2.4" stroke-linejoin="round"/>
<polygon points="525.6,432.1 519,429 519,435.2" fill="#fff" stroke="#5ec962" stroke-width="2.5" stroke-linejoin="miter"/>
<text x="540.3" y="435.7" font-size="10" fill="#262626" style="font-family:&quot;Liberation Serif&quot;,serif">Case6</text>
<path d="M511,442.7 L533.4,442.7" fill="none" stroke="#addc30" stroke-width="2.4" stroke-linejoin="round" stroke-dasharray="2.5 4.1" stroke-linecap="butt"/>
<polygon points="519.4,439.9 525,439.9 525,445.5 519.4,445.5" fill="#fff" stroke="#addc30" stroke-width="2.7" stroke-linejoin="miter"/>
<text x="540.3" y="446.3" font-size="10" fill="#262626" style="font-family:&quot;Liberation Serif&quot;,serif">Case7</text>
<path d="M511,453.3 L533.4,453.3" fill="none" stroke="#fde725" stroke-width="2.4" stroke-linejoin="round" stroke-dasharray="2.5 4.1" stroke-linecap="butt"/>
<polygon points="526.45,455.06 523.96,457.55 520.44,457.55 517.95,455.06 517.95,451.54 520.44,449.05 523.96,449.05 526.45,451.54" fill="#fde725"/>
<text x="540.3" y="456.9" font-size="10" fill="#262626" style="font-family:&quot;Liberation Serif&quot;,serif">Case8</text>
<text x="118.4" y="249.3" font-size="15" fill="#111" style="font-family:&quot;Liberation Sans&quot;,sans-serif"><tspan font-weight="bold">(a)</tspan> Sketch map</text>
<text x="431.3" y="249" font-size="15" fill="#111" style="font-family:&quot;Liberation Sans&quot;,sans-serif"><tspan font-weight="bold">(b)</tspan> Propagation Lateral Range</text>
<text x="61.8" y="523.7" font-size="15" fill="#111" style="font-family:&quot;Liberation Sans&quot;,sans-serif"><tspan font-weight="bold">(c)</tspan> Propagation Horizontal Range</text>
<text x="428.3" y="523.7" font-size="15" fill="#111" style="font-family:&quot;Liberation Sans&quot;,sans-serif"><tspan font-weight="bold">(d)</tspan> Propagation Vertical Range</text>
</svg>
</body></html>
